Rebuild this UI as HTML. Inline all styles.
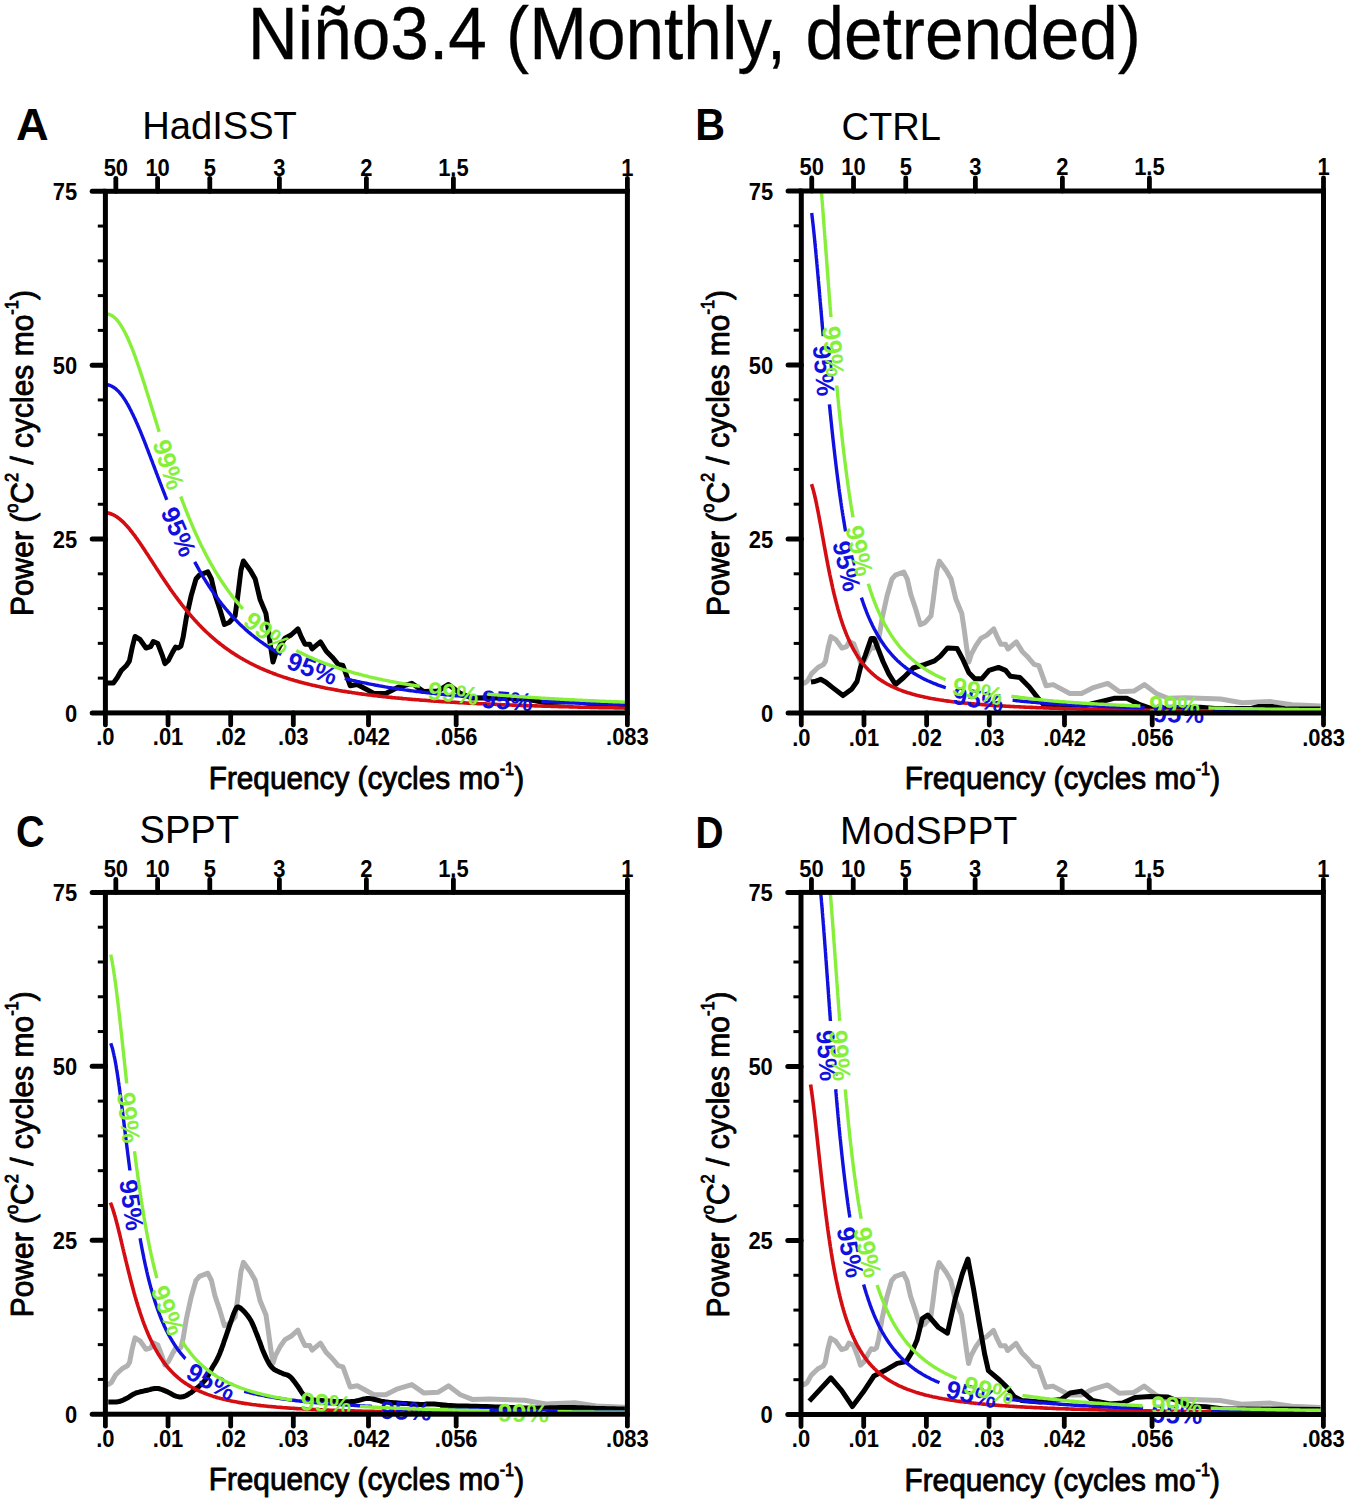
<!DOCTYPE html>
<html><head><meta charset="utf-8"><style>
html,body{margin:0;padding:0;background:#fff;overflow:hidden;}
svg{display:block;}
text{font-family:"Liberation Sans", sans-serif;}
.tl{font-size:21.5px;font-weight:bold;fill:#000;}
.cl{font-size:21.5px;font-weight:bold;}
.al{font-size:32.5px;fill:#000;}
.pl{font-size:42px;font-weight:bold;fill:#000;}
.pt{font-size:38px;fill:#000;}
.ti{font-size:72px;fill:#000;}
</style></head><body>
<svg width="1350" height="1505" viewBox="0 0 1350 1505">
<rect width="1350" height="1505" fill="#fff"/>
<text transform="translate(694.30,58.70) scale(0.9300,1)" text-anchor="middle" font-size="74.6" font-weight="normal" fill="#000" stroke="#000" stroke-width="0.3" stroke-linejoin="round">Niño3.4 (Monthly, detrended)</text>

<clipPath id="clipA"><rect x="105.4" y="191.3" width="522.00" height="521.60"/></clipPath>
<polyline points="105.6,683.0 113.4,683.0 117.2,677.8 121.3,670.5 126.2,665.8 129.4,661.0 132.3,647.0 135.0,636.5 140.0,639.5 146.0,648.0 150.7,646.5 153.3,641.5 157.8,643.6 162.2,655.1 164.9,663.6 168.4,660.4 172.9,651.6 175.6,647.1 178.2,648.0 180.9,646.2 183.1,637.3 186.5,616.9 191.2,595.6 196.0,579.0 199.5,575.0 207.8,571.9 211.4,579.0 214.9,594.4 219.7,608.6 224.4,624.5 229.1,622.5 235.1,615.8 237.4,599.2 241.0,570.0 243.4,561.0 250.5,570.7 255.2,579.0 260.0,599.2 265.9,613.4 268.2,628.8 270.6,646.6 273.0,662.0 275.5,654.0 280.0,645.5 285.0,638.3 291.0,635.0 297.9,628.8 301.4,637.1 305.0,644.2 309.7,644.2 312.1,648.9 320.4,641.8 326.3,651.3 332.2,657.2 338.2,664.3 342.9,665.5 350.2,685.7 357.3,684.5 373.9,693.4 385.7,693.4 397.6,687.5 411.8,683.3 423.7,691.6 437.9,691.0 448.5,684.5 460.4,693.4 472.2,698.1 489.3,697.7 524.6,698.9 546.0,702.7 574.9,701.5 596.3,704.6 624.9,705.9" fill="none" stroke="#000" stroke-width="5.0" stroke-linejoin="round" clip-path="url(#clipA)"/>
<polyline points="105.4,512.8 106.9,512.9 108.4,513.1 109.9,513.5 111.3,514.0 112.7,514.6 114.1,515.2 115.4,516.0 116.7,516.8 118.0,517.7 119.2,518.6 120.4,519.6 121.5,520.6 122.7,521.7 123.8,522.7 124.9,523.9 125.9,525.0 127.0,526.1 128.0,527.3 129.0,528.4 130.0,529.7 130.9,530.8 131.9,532.0 132.8,533.3 133.8,534.5 134.7,535.7 135.6,536.9 136.5,538.2 137.4,539.4 138.3,540.7 139.2,542.0 140.1,543.3 140.9,544.5 141.8,545.8 142.6,547.1 143.5,548.3 144.3,549.6 145.2,550.9 146.0,552.2 146.9,553.5 147.7,554.8 148.6,556.1 149.4,557.4 150.3,558.7 151.1,560.0 152.0,561.3 152.8,562.6 153.7,564.0 154.5,565.3 155.4,566.6 156.2,567.9 157.1,569.2 157.9,570.5 158.8,571.8 159.6,573.1 160.5,574.4 161.3,575.7 162.2,577.0 163.0,578.2 163.9,579.5 164.7,580.8 165.6,582.0 166.4,583.3 167.3,584.5 168.1,585.8 169.0,587.1 169.9,588.4 170.8,589.7 171.7,591.0 172.6,592.2 173.5,593.5 174.4,594.7 175.3,596.0 176.2,597.2 177.1,598.4 178.0,599.6 179.0,600.9 179.9,602.1 180.9,603.4 181.8,604.6 182.8,605.8 183.7,607.0 184.7,608.2 185.6,609.4 186.6,610.5 187.6,611.7 188.6,612.9 189.6,614.1 190.6,615.3 191.6,616.5 192.6,617.6 193.6,618.7 194.6,619.9 195.7,621.0 196.7,622.2 197.8,623.3 198.8,624.4 199.9,625.5 200.9,626.6 202.0,627.7 203.1,628.8 204.2,629.9 205.3,630.9 206.4,632.0 207.5,633.0 208.6,634.0 209.8,635.1 210.9,636.1 212.1,637.1 213.2,638.1 214.4,639.1 215.5,640.1 216.7,641.1 217.9,642.1 219.1,643.0 220.3,644.0 221.5,644.9 222.7,645.8 223.9,646.7 225.2,647.7 226.4,648.6 227.7,649.5 228.9,650.3 230.2,651.2 231.4,652.1 232.7,652.9 234.0,653.7 235.3,654.6 236.6,655.4 237.9,656.2 239.2,657.0 240.5,657.8 241.8,658.5 243.1,659.3 244.4,660.0 245.8,660.8 247.1,661.5 248.5,662.2 249.8,663.0 251.2,663.7 252.5,664.3 253.9,665.0 255.2,665.7 256.6,666.3 258.0,667.0 259.4,667.6 260.8,668.3 262.2,668.9 263.6,669.5 265.0,670.1 266.4,670.7 267.8,671.3 269.2,671.8 270.6,672.4 272.0,672.9 273.5,673.5 274.9,674.0 276.4,674.6 277.8,675.1 279.3,675.6 280.7,676.1 282.2,676.6 283.6,677.1 285.1,677.6 286.5,678.0 288.0,678.5 289.4,678.9 290.9,679.4 292.3,679.8 293.8,680.3 295.2,680.7 296.7,681.1 298.1,681.5 299.6,681.9 301.0,682.3 302.5,682.7 304.0,683.1 305.5,683.4 307.0,683.8 308.5,684.2 310.0,684.6 311.5,684.9 313.0,685.3 314.5,685.6 316.0,685.9 317.5,686.3 319.0,686.6 320.5,686.9 322.0,687.2 323.5,687.6 325.0,687.9 326.5,688.2 328.0,688.5 329.5,688.7 331.0,689.0 332.5,689.3 334.0,689.6 335.5,689.9 337.0,690.1 338.5,690.4 340.0,690.7 341.5,690.9 343.0,691.2 344.5,691.4 346.0,691.6 347.5,691.9 349.0,692.1 350.5,692.3 352.0,692.6 353.5,692.8 355.0,693.0 356.5,693.2 358.0,693.4 359.5,693.7 361.0,693.9 362.5,694.1 364.0,694.3 365.5,694.5 367.0,694.7 368.5,694.9 370.0,695.0 371.5,695.2 373.0,695.4 374.5,695.6 376.0,695.8 377.5,695.9 379.0,696.1 380.5,696.3 382.0,696.5 383.5,696.6 385.0,696.8 386.5,696.9 388.0,697.1 389.5,697.3 391.0,697.4 392.5,697.6 394.0,697.7 395.5,697.9 397.0,698.0 398.5,698.1 400.0,698.3 401.5,698.4 403.0,698.6 404.5,698.7 406.0,698.8 407.5,699.0 409.0,699.1 410.5,699.2 412.0,699.4 413.5,699.5 415.0,699.6 416.5,699.7 418.0,699.8 419.5,700.0 421.0,700.1 422.5,700.2 424.0,700.3 425.5,700.4 427.0,700.5 428.5,700.6 430.0,700.7 431.5,700.9 433.0,701.0 434.5,701.1 436.0,701.2 437.5,701.3 439.0,701.4 440.5,701.5 442.0,701.6 443.5,701.7 445.0,701.8 446.5,701.9 448.0,701.9 449.5,702.0 451.0,702.1 452.5,702.2 454.0,702.3 455.5,702.4 457.0,702.5 458.5,702.6 460.0,702.7 461.5,702.7 463.0,702.8 464.5,702.9 466.0,703.0 467.5,703.1 469.0,703.1 470.5,703.2 472.0,703.3 473.5,703.4 475.0,703.4 476.5,703.5 478.0,703.6 479.5,703.7 481.0,703.7 482.5,703.8 484.0,703.9 485.5,703.9 487.0,704.0 488.5,704.1 490.0,704.1 491.5,704.2 493.0,704.3 494.5,704.3 496.0,704.4 497.5,704.5 499.0,704.5 500.5,704.6 502.0,704.7 503.5,704.7 505.0,704.8 506.5,704.8 508.0,704.9 509.5,705.0 511.0,705.0 512.5,705.1 514.0,705.1 515.5,705.2 517.0,705.2 518.5,705.3 520.0,705.3 521.5,705.4 523.0,705.5 524.5,705.5 526.0,705.6 527.5,705.6 529.0,705.7 530.5,705.7 532.0,705.8 533.5,705.8 535.0,705.9 536.5,705.9 538.0,706.0 539.5,706.0 541.0,706.0 542.5,706.1 544.0,706.1 545.5,706.2 547.0,706.2 548.5,706.3 550.0,706.3 551.5,706.4 553.0,706.4 554.5,706.4 556.0,706.5 557.5,706.5 559.0,706.6 560.5,706.6 562.0,706.7 563.5,706.7 565.0,706.7 566.5,706.8 568.0,706.8 569.5,706.9 571.0,706.9 572.5,706.9 574.0,707.0 575.5,707.0 577.0,707.0 578.5,707.1 580.0,707.1 581.5,707.2 583.0,707.2 584.5,707.2 586.0,707.3 587.5,707.3 589.0,707.3 590.5,707.4 592.0,707.4 593.5,707.4 595.0,707.5 596.5,707.5 598.0,707.5 599.5,707.6 601.0,707.6 602.5,707.6 604.0,707.7 605.5,707.7 607.0,707.7 608.5,707.8 610.0,707.8 611.5,707.8 613.0,707.8 614.5,707.9 616.0,707.9 617.5,707.9 619.0,708.0 620.5,708.0 622.0,708.0 623.5,708.0 625.0,708.1 626.5,708.1 627.4,708.1" fill="none" stroke="#d40d12" stroke-width="3.6" stroke-linejoin="round" clip-path="url(#clipA)"/>
<polyline points="105.4,384.7 106.9,384.8 108.4,385.0 109.8,385.4 111.3,386.0 112.6,386.7 113.9,387.5 115.2,388.4 116.4,389.4 117.5,390.4 118.6,391.5 119.6,392.7 120.6,393.9 121.6,395.1 122.5,396.3 123.4,397.6 124.2,398.8 125.1,400.1 125.9,401.4 126.7,402.8 127.5,404.1 128.2,405.5 129.0,406.8 129.7,408.2 130.4,409.6 131.1,410.9 131.8,412.4 132.5,413.8 133.2,415.1 133.8,416.5 134.5,417.9 135.1,419.3 135.8,420.8 136.4,422.2 137.1,423.7 137.7,425.1 138.3,426.5 138.9,427.9 139.5,429.3 140.1,430.7 140.7,432.2 141.3,433.7 141.9,435.1 142.5,436.6 143.1,438.1 143.7,439.6 144.3,441.1 144.9,442.6 145.4,444.0 146.0,445.4 146.5,446.9 147.1,448.3 147.6,449.7 148.2,451.1 148.7,452.6 149.3,454.0 149.8,455.4 150.4,456.9 150.9,458.3 151.5,459.8 152.0,461.2 152.6,462.7 153.1,464.1 153.7,465.6 154.2,467.0 154.8,468.5 155.3,469.9 155.9,471.4 156.4,472.9 157.0,474.3 157.5,475.8 158.1,477.2 158.6,478.7 159.2,480.1 159.7,481.6 160.3,483.0 160.8,484.4 161.4,485.9 161.9,487.3 162.5,488.7 163.0,490.2 163.6,491.6 164.1,493.0 164.7,494.4 165.2,495.8 165.8,497.2 166.3,498.6 166.8,499.8" fill="none" stroke="#1010e0" stroke-width="3.4" stroke-linejoin="round" clip-path="url(#clipA)"/>
<polyline points="194.7,561.9 195.5,563.3 196.2,564.7 197.0,566.0 197.7,567.4 198.5,568.7 199.2,570.1 200.0,571.4 200.7,572.7 201.5,574.1 202.3,575.4 203.1,576.8 203.9,578.1 204.7,579.4 205.5,580.7 206.3,582.0 207.2,583.3 208.0,584.6 208.9,586.0 209.7,587.3 210.6,588.5 211.4,589.8 212.3,591.0 213.2,592.4 214.1,593.6 215.0,594.9 215.9,596.2 216.8,597.4 217.7,598.6 218.6,599.8 219.5,601.1 220.5,602.3 221.4,603.6 222.4,604.8 223.3,605.9 224.3,607.1 225.3,608.3 226.3,609.5 227.3,610.7 228.3,611.9 229.3,613.0 230.3,614.1 231.3,615.3 232.4,616.5 233.4,617.6 234.5,618.7 235.5,619.8 236.6,620.9 237.7,622.0 238.8,623.1 239.9,624.2 241.0,625.2 242.1,626.3 243.2,627.3 244.3,628.3 245.5,629.4 246.6,630.4 247.8,631.4 248.9,632.4 250.1,633.4 251.3,634.4 252.5,635.3 253.7,636.3 254.9,637.3 256.1,638.2 257.3,639.1 258.5,640.0 259.8,641.0 261.0,641.9 262.3,642.7 263.5,643.6 264.8,644.5 266.0,645.3 267.3,646.2 268.6,647.0 269.9,647.8 271.2,648.7 272.5,649.5 273.8,650.2 275.1,651.0 276.4,651.8 277.7,652.5 279.0,653.3 280.4,654.0 281.3,654.5" fill="none" stroke="#1010e0" stroke-width="3.4" stroke-linejoin="round" clip-path="url(#clipA)"/>
<polyline points="344.8,678.4 346.3,678.8 347.8,679.2 349.3,679.6 350.8,679.9 352.3,680.3 353.8,680.6 355.3,681.0 356.8,681.3 358.3,681.6 359.8,682.0 361.3,682.3 362.8,682.6 364.3,682.9 365.8,683.2 367.3,683.5 368.8,683.8 370.3,684.1 371.8,684.4 373.3,684.7 374.8,685.0 376.3,685.3 377.8,685.5 379.3,685.8 380.8,686.1 382.3,686.3 383.8,686.6 385.3,686.9 386.8,687.1 388.3,687.4 389.8,687.6 391.3,687.8 392.8,688.1 394.3,688.3 395.8,688.5 397.3,688.8 398.8,689.0 400.3,689.2 401.8,689.4 403.3,689.6 404.8,689.9 406.3,690.1 407.8,690.3 409.3,690.5 410.8,690.7 412.3,690.9 413.8,691.1 415.3,691.3 416.8,691.5 418.3,691.6 419.8,691.8 421.3,692.0 422.8,692.2 424.3,692.4 425.8,692.6 427.3,692.7 428.8,692.9 430.3,693.1 431.8,693.2 433.3,693.4 434.8,693.6 436.3,693.7 437.8,693.9 439.3,694.0 440.8,694.2 442.3,694.4 443.8,694.5 445.3,694.7 446.8,694.8 448.3,694.9 449.8,695.1 451.3,695.2 452.8,695.4 454.3,695.5 455.8,695.7 457.3,695.8 458.8,695.9 460.3,696.1 461.8,696.2 463.3,696.3 464.8,696.4 466.3,696.6 467.8,696.7 469.3,696.8 470.8,696.9 472.3,697.1 473.4,697.2" fill="none" stroke="#1010e0" stroke-width="3.4" stroke-linejoin="round" clip-path="url(#clipA)"/>
<polyline points="541.3,701.4 542.8,701.5 544.3,701.6 545.8,701.6 547.3,701.7 548.8,701.8 550.3,701.9 551.8,701.9 553.3,702.0 554.8,702.1 556.3,702.1 557.8,702.2 559.3,702.3 560.8,702.3 562.3,702.4 563.8,702.5 565.3,702.5 566.8,702.6 568.3,702.7 569.8,702.7 571.3,702.8 572.8,702.8 574.3,702.9 575.8,703.0 577.3,703.0 578.8,703.1 580.3,703.1 581.8,703.2 583.3,703.3 584.8,703.3 586.3,703.4 587.8,703.4 589.3,703.5 590.8,703.5 592.3,703.6 593.8,703.6 595.3,703.7 596.8,703.8 598.3,703.8 599.8,703.9 601.3,703.9 602.8,704.0 604.3,704.0 605.8,704.1 607.3,704.1 608.8,704.2 610.3,704.2 611.8,704.3 613.3,704.3 614.8,704.4 616.3,704.4 617.8,704.4 619.3,704.5 620.8,704.5 622.3,704.6 623.8,704.6 625.3,704.7 626.8,704.7 627.4,704.7" fill="none" stroke="#1010e0" stroke-width="3.4" stroke-linejoin="round" clip-path="url(#clipA)"/>
<text transform="translate(179.0,531.6) rotate(66.0) scale(1.0,1)" x="0" y="9.18" text-anchor="middle" font-size="25.5" font-weight="bold" fill="#1010e0">95%</text>
<text transform="translate(312.4,668.2) rotate(20.2) scale(1.0,1)" x="0" y="9.18" text-anchor="middle" font-size="25.5" font-weight="bold" fill="#1010e0">95%</text>
<text transform="translate(507.3,700.3) rotate(3.6) scale(1.0,1)" x="0" y="9.18" text-anchor="middle" font-size="25.5" font-weight="bold" fill="#1010e0">95%</text>
<polyline points="105.4,313.8 106.9,313.9 108.4,314.1 109.8,314.6 111.2,315.2 112.5,316.0 113.8,317.0 114.9,317.9 116.0,319.0 117.1,320.2 118.1,321.4 119.0,322.6 119.9,323.9 120.8,325.2 121.6,326.5 122.4,327.9 123.2,329.2 123.9,330.5 124.7,331.9 125.4,333.3 126.1,334.7 126.8,336.2 127.4,337.6 128.1,339.0 128.7,340.5 129.3,341.8 129.9,343.2 130.5,344.7 131.1,346.1 131.7,347.6 132.3,349.2 132.9,350.6 133.4,352.0 134.0,353.5 134.5,354.9 135.1,356.4 135.6,357.9 136.2,359.5 136.7,361.0 137.2,362.4 137.7,363.9 138.2,365.3 138.7,366.8 139.2,368.2 139.7,369.7 140.2,371.2 140.7,372.7 141.2,374.2 141.7,375.7 142.2,377.3 142.7,378.8 143.2,380.4 143.7,381.9 144.2,383.5 144.7,385.1 145.2,386.6 145.7,388.2 146.2,389.8 146.7,391.2 147.1,392.7 147.6,394.1 148.0,395.6 148.5,397.0 148.9,398.5 149.4,399.9 149.8,401.4 150.3,402.8 150.7,404.3 151.2,405.8 151.6,407.2 152.1,408.7 152.5,410.2 153.0,411.6 153.4,413.1 153.9,414.6 154.3,416.0 154.8,417.5 155.2,419.0 155.7,420.4 156.1,421.9 156.6,423.4 157.0,424.8 157.5,426.3 157.9,427.8 158.4,429.2 158.8,430.7 159.2,431.8" fill="none" stroke="#86ef3a" stroke-width="3.4" stroke-linejoin="round" clip-path="url(#clipA)"/>
<polyline points="180.7,496.5 181.3,498.0 181.8,499.5 182.4,500.9 182.9,502.4 183.5,503.8 184.0,505.2 184.6,506.7 185.1,508.1 185.7,509.5 186.3,511.0 186.9,512.5 187.5,514.0 188.1,515.5 188.7,517.0 189.3,518.4 189.9,519.9 190.5,521.3 191.1,522.7 191.7,524.2 192.3,525.6 192.9,527.0 193.5,528.3 194.1,529.8 194.8,531.3 195.4,532.7 196.1,534.2 196.7,535.6 197.4,537.0 198.0,538.4 198.7,539.8 199.3,541.2 200.0,542.6 200.6,543.9 201.3,545.4 202.0,546.8 202.7,548.2 203.4,549.6 204.1,551.0 204.8,552.4 205.5,553.7 206.2,555.1 206.9,556.4 207.7,557.8 208.4,559.2 209.2,560.6 209.9,561.9 210.7,563.3 211.4,564.6 212.2,565.9 212.9,567.2 213.7,568.6 214.5,570.0 215.3,571.3 216.1,572.6 216.9,573.9 217.7,575.2 218.5,576.5 219.4,577.8 220.2,579.2 221.1,580.5 221.9,581.8 222.8,583.0 223.6,584.3 224.5,585.5 225.4,586.8 226.3,588.1 227.2,589.4 228.1,590.6 229.0,591.9 229.9,593.1 230.8,594.3 231.8,595.6 232.7,596.8 233.7,598.0 234.6,599.2 235.6,600.4 236.6,601.6 237.6,602.8 238.6,604.0 239.6,605.2 240.6,606.3 241.6,607.5 242.6,608.6 242.9,608.9" fill="none" stroke="#86ef3a" stroke-width="3.4" stroke-linejoin="round" clip-path="url(#clipA)"/>
<polyline points="296.3,650.5 297.7,651.2 299.0,651.9 300.4,652.6 301.7,653.3 303.1,653.9 304.4,654.6 305.8,655.3 307.2,655.9 308.6,656.6 310.0,657.2 311.4,657.8 312.8,658.4 314.2,659.1 315.6,659.7 317.0,660.2 318.4,660.8 319.8,661.4 321.2,661.9 322.6,662.5 324.0,663.0 325.5,663.6 326.9,664.1 328.4,664.7 329.8,665.2 331.3,665.7 332.7,666.2 334.2,666.7 335.6,667.2 337.1,667.7 338.5,668.2 340.0,668.6 341.4,669.1 342.9,669.6 344.3,670.0 345.8,670.4 347.2,670.9 348.7,671.3 350.1,671.7 351.6,672.1 353.0,672.6 354.5,673.0 355.9,673.4 357.4,673.7 358.8,674.1 360.3,674.5 361.8,674.9 363.3,675.3 364.8,675.7 366.3,676.0 367.8,676.4 369.3,676.8 370.8,677.1 372.3,677.5 373.8,677.8 375.3,678.1 376.8,678.5 378.3,678.8 379.8,679.1 381.3,679.4 382.8,679.8 384.3,680.1 385.8,680.4 387.3,680.7 388.8,681.0 390.3,681.3 391.8,681.6 393.3,681.8 394.8,682.1 396.3,682.4 397.8,682.7 399.3,683.0 400.8,683.2 402.3,683.5 403.8,683.7 405.3,684.0 406.8,684.2 408.3,684.5 409.8,684.7 411.3,685.0 412.8,685.2 414.3,685.5 415.8,685.7 417.3,685.9 418.8,686.2 419.8,686.3" fill="none" stroke="#86ef3a" stroke-width="3.4" stroke-linejoin="round" clip-path="url(#clipA)"/>
<polyline points="487.4,694.1 488.9,694.2 490.4,694.4 491.9,694.5 493.4,694.6 494.9,694.7 496.4,694.9 497.9,695.0 499.4,695.1 500.9,695.2 502.4,695.4 503.9,695.5 505.4,695.6 506.9,695.7 508.4,695.8 509.9,695.9 511.4,696.0 512.9,696.2 514.4,696.3 515.9,696.4 517.4,696.5 518.9,696.6 520.4,696.7 521.9,696.8 523.4,696.9 524.9,697.0 526.4,697.1 527.9,697.2 529.4,697.3 530.9,697.4 532.4,697.5 533.9,697.6 535.4,697.7 536.9,697.8 538.4,697.9 539.9,698.0 541.4,698.1 542.9,698.2 544.4,698.3 545.9,698.4 547.4,698.4 548.9,698.5 550.4,698.6 551.9,698.7 553.4,698.8 554.9,698.9 556.4,699.0 557.9,699.0 559.4,699.1 560.9,699.2 562.4,699.3 563.9,699.4 565.4,699.5 566.9,699.5 568.4,699.6 569.9,699.7 571.4,699.8 572.9,699.8 574.4,699.9 575.9,700.0 577.4,700.1 578.9,700.1 580.4,700.2 581.9,700.3 583.4,700.4 584.9,700.4 586.4,700.5 587.9,700.6 589.4,700.6 590.9,700.7 592.4,700.8 593.9,700.8 595.4,700.9 596.9,701.0 598.4,701.0 599.9,701.1 601.4,701.2 602.9,701.2 604.4,701.3 605.9,701.4 607.4,701.4 608.9,701.5 610.4,701.5 611.9,701.6 613.4,701.7 614.9,701.7 616.4,701.8 617.9,701.8 619.4,701.9 620.9,702.0 622.4,702.0 623.9,702.1 625.4,702.1 626.9,702.2 627.4,702.2" fill="none" stroke="#86ef3a" stroke-width="3.4" stroke-linejoin="round" clip-path="url(#clipA)"/>
<text transform="translate(168.9,464.5) rotate(71.7) scale(1.0,1)" x="0" y="9.18" text-anchor="middle" font-size="25.5" font-weight="bold" fill="#86ef3a">99%</text>
<text transform="translate(267.5,632.4) rotate(37.8) scale(1.0,1)" x="0" y="9.18" text-anchor="middle" font-size="25.5" font-weight="bold" fill="#86ef3a">99%</text>
<text transform="translate(453.3,693.0) rotate(6.5) scale(1.0,1)" x="0" y="9.18" text-anchor="middle" font-size="25.5" font-weight="bold" fill="#86ef3a">99%</text>
<rect x="105.4" y="191.3" width="522.00" height="521.60" fill="none" stroke="#000" stroke-width="5"/>
<line x1="105.4" y1="712.90" x2="92.20" y2="712.90" stroke="#000" stroke-width="5" stroke-linecap="round"/>
<text transform="translate(77.20,721.70) scale(0.9550,1)" text-anchor="end" font-size="23.0" font-weight="bold" fill="#000">0</text>
<line x1="105.4" y1="678.13" x2="97.80" y2="678.13" stroke="#000" stroke-width="3"/>
<line x1="105.4" y1="643.35" x2="97.80" y2="643.35" stroke="#000" stroke-width="3"/>
<line x1="105.4" y1="608.58" x2="97.80" y2="608.58" stroke="#000" stroke-width="3"/>
<line x1="105.4" y1="573.81" x2="97.80" y2="573.81" stroke="#000" stroke-width="3"/>
<line x1="105.4" y1="539.03" x2="92.20" y2="539.03" stroke="#000" stroke-width="5" stroke-linecap="round"/>
<text transform="translate(77.20,547.83) scale(0.9550,1)" text-anchor="end" font-size="23.0" font-weight="bold" fill="#000">25</text>
<line x1="105.4" y1="504.26" x2="97.80" y2="504.26" stroke="#000" stroke-width="3"/>
<line x1="105.4" y1="469.49" x2="97.80" y2="469.49" stroke="#000" stroke-width="3"/>
<line x1="105.4" y1="434.71" x2="97.80" y2="434.71" stroke="#000" stroke-width="3"/>
<line x1="105.4" y1="399.94" x2="97.80" y2="399.94" stroke="#000" stroke-width="3"/>
<line x1="105.4" y1="365.17" x2="92.20" y2="365.17" stroke="#000" stroke-width="5" stroke-linecap="round"/>
<text transform="translate(77.20,373.97) scale(0.9550,1)" text-anchor="end" font-size="23.0" font-weight="bold" fill="#000">50</text>
<line x1="105.4" y1="330.39" x2="97.80" y2="330.39" stroke="#000" stroke-width="3"/>
<line x1="105.4" y1="295.62" x2="97.80" y2="295.62" stroke="#000" stroke-width="3"/>
<line x1="105.4" y1="260.85" x2="97.80" y2="260.85" stroke="#000" stroke-width="3"/>
<line x1="105.4" y1="226.07" x2="97.80" y2="226.07" stroke="#000" stroke-width="3"/>
<line x1="105.4" y1="191.30" x2="92.20" y2="191.30" stroke="#000" stroke-width="5" stroke-linecap="round"/>
<text transform="translate(77.20,200.10) scale(0.9550,1)" text-anchor="end" font-size="23.0" font-weight="bold" fill="#000">75</text>
<line x1="105.40" y1="712.9" x2="105.40" y2="724.90" stroke="#000" stroke-width="4.8" stroke-linecap="round"/>
<text transform="translate(105.40,745.40) scale(0.9550,1)" text-anchor="middle" font-size="23.0" font-weight="bold" fill="#000">.0</text>
<line x1="168.04" y1="712.9" x2="168.04" y2="724.90" stroke="#000" stroke-width="4.8" stroke-linecap="round"/>
<text transform="translate(168.04,745.40) scale(0.9550,1)" text-anchor="middle" font-size="23.0" font-weight="bold" fill="#000">.01</text>
<line x1="230.68" y1="712.9" x2="230.68" y2="724.90" stroke="#000" stroke-width="4.8" stroke-linecap="round"/>
<text transform="translate(230.68,745.40) scale(0.9550,1)" text-anchor="middle" font-size="23.0" font-weight="bold" fill="#000">.02</text>
<line x1="293.32" y1="712.9" x2="293.32" y2="724.90" stroke="#000" stroke-width="4.8" stroke-linecap="round"/>
<text transform="translate(293.32,745.40) scale(0.9550,1)" text-anchor="middle" font-size="23.0" font-weight="bold" fill="#000">.03</text>
<line x1="368.49" y1="712.9" x2="368.49" y2="724.90" stroke="#000" stroke-width="4.8" stroke-linecap="round"/>
<text transform="translate(368.49,745.40) scale(0.9550,1)" text-anchor="middle" font-size="23.0" font-weight="bold" fill="#000">.042</text>
<line x1="456.18" y1="712.9" x2="456.18" y2="724.90" stroke="#000" stroke-width="4.8" stroke-linecap="round"/>
<text transform="translate(456.18,745.40) scale(0.9550,1)" text-anchor="middle" font-size="23.0" font-weight="bold" fill="#000">.056</text>
<line x1="627.40" y1="712.9" x2="627.40" y2="724.90" stroke="#000" stroke-width="4.8" stroke-linecap="round"/>
<text transform="translate(627.40,745.40) scale(0.9550,1)" text-anchor="middle" font-size="23.0" font-weight="bold" fill="#000">.083</text>
<line x1="115.84" y1="191.3" x2="115.84" y2="178.30" stroke="#000" stroke-width="4.8" stroke-linecap="round"/>
<text transform="translate(115.84,175.60) scale(0.9550,1)" text-anchor="middle" font-size="23.0" font-weight="bold" fill="#000">50</text>
<line x1="157.60" y1="191.3" x2="157.60" y2="178.30" stroke="#000" stroke-width="4.8" stroke-linecap="round"/>
<text transform="translate(157.60,175.60) scale(0.9550,1)" text-anchor="middle" font-size="23.0" font-weight="bold" fill="#000">10</text>
<line x1="209.80" y1="191.3" x2="209.80" y2="178.30" stroke="#000" stroke-width="4.8" stroke-linecap="round"/>
<text transform="translate(209.80,175.60) scale(0.9550,1)" text-anchor="middle" font-size="23.0" font-weight="bold" fill="#000">5</text>
<line x1="279.40" y1="191.3" x2="279.40" y2="178.30" stroke="#000" stroke-width="4.8" stroke-linecap="round"/>
<text transform="translate(279.40,175.60) scale(0.9550,1)" text-anchor="middle" font-size="23.0" font-weight="bold" fill="#000">3</text>
<line x1="366.40" y1="191.3" x2="366.40" y2="178.30" stroke="#000" stroke-width="4.8" stroke-linecap="round"/>
<text transform="translate(366.40,175.60) scale(0.9550,1)" text-anchor="middle" font-size="23.0" font-weight="bold" fill="#000">2</text>
<line x1="453.40" y1="191.3" x2="453.40" y2="178.30" stroke="#000" stroke-width="4.8" stroke-linecap="round"/>
<text transform="translate(453.40,175.60) scale(0.9550,1)" text-anchor="middle" font-size="23.0" font-weight="bold" fill="#000">1.5</text>
<line x1="627.40" y1="191.3" x2="627.40" y2="178.30" stroke="#000" stroke-width="4.8" stroke-linecap="round"/>
<text transform="translate(627.40,175.60) scale(0.9550,1)" text-anchor="middle" font-size="23.0" font-weight="bold" fill="#000">1</text>
<text transform="translate(366.40,789.10) scale(0.9300,1)" text-anchor="middle" font-size="32.0" fill="#000" stroke="#000" stroke-width="0.9" stroke-linejoin="round">Frequency (cycles mo<tspan dy="-14.5" font-size="17.5">-1</tspan><tspan dy="14.5">)</tspan></text>
<text transform="translate(32.90,453.10) rotate(-90) scale(0.9370,1)" text-anchor="middle" font-size="32.0" fill="#000" stroke="#000" stroke-width="0.9" stroke-linejoin="round">Power (<tspan dy="-14.5" font-size="17.5">o</tspan><tspan dy="14.5">C</tspan><tspan dy="-14.5" font-size="17.5">2</tspan><tspan dy="14.5"> / cycles mo</tspan><tspan dy="-14.5" font-size="17.5">-1</tspan><tspan dy="14.5">)</tspan></text>
<text transform="translate(16.00,139.70) scale(1.0400,1)" text-anchor="start" font-size="43.5" font-weight="bold" fill="#000">A</text>
<text transform="translate(142.30,139.30) scale(0.9650,1)" text-anchor="start" font-size="39.5" font-weight="normal" fill="#000">HadISST</text>
<clipPath id="clipB"><rect x="801.3" y="191.0" width="522.20" height="522.00"/></clipPath>
<polyline points="801.5,683.6 804.4,683.1 807.4,681.1 811.6,673.6 818.3,667.3 823.4,664.6 825.5,661.1 828.2,647.1 830.9,636.6 835.9,639.6 841.9,648.1 846.6,646.6 849.2,641.6 853.7,643.7 858.1,655.2 860.8,663.7 864.3,660.5 868.8,651.7 871.5,647.2 874.1,648.1 876.8,646.3 879.0,637.4 882.4,617.0 887.1,595.7 891.9,579.1 895.4,575.1 903.7,572.0 907.3,579.1 910.8,594.5 915.6,608.7 920.3,624.6 925.0,622.6 931.0,615.9 933.3,599.3 936.9,570.1 939.3,561.1 946.4,570.8 951.1,579.1 955.9,599.3 961.8,613.5 964.1,628.9 966.5,646.7 968.9,662.1 971.4,654.1 975.9,645.6 980.9,638.4 986.9,635.1 993.8,628.9 997.3,637.2 1000.9,644.3 1005.6,644.3 1008.0,649.0 1016.3,641.9 1022.2,651.4 1028.1,657.3 1034.1,664.4 1038.8,665.6 1046.1,685.8 1053.2,684.6 1069.8,693.5 1081.6,693.5 1093.5,687.6 1107.7,683.4 1119.6,691.7 1133.8,691.1 1144.4,684.6 1156.3,693.5 1168.1,698.2 1185.2,697.8 1220.5,699.0 1241.9,702.8 1270.8,701.6 1292.2,704.7 1320.8,706.0" fill="none" stroke="#b1b1b1" stroke-width="5.0" stroke-linejoin="round" clip-path="url(#clipB)"/>
<polyline points="811.0,682.0 814.8,681.5 820.7,679.3 825.9,682.2 833.3,688.1 843.0,695.6 851.9,688.9 857.0,681.5 860.7,666.7 865.2,655.6 871.1,638.5 874.1,638.5 877.8,648.1 883.0,661.5 888.9,674.1 895.5,684.5 903.7,677.5 913.2,668.0 925.0,664.4 934.5,660.9 940.4,656.1 947.6,647.9 957.0,648.4 963.0,659.7 968.9,672.7 974.8,678.7 981.9,678.7 989.0,670.4 998.5,667.4 1005.6,670.4 1010.4,676.3 1019.9,677.5 1029.3,687.0 1037.6,697.6 1044.4,705.6 1060.0,707.0 1085.0,705.5 1100.6,701.8 1114.8,698.2 1126.7,698.2 1138.5,704.1 1150.0,708.0 1175.0,708.3 1200.0,707.2 1215.0,708.5 1250.0,708.6 1258.0,706.6 1273.0,706.6 1285.0,708.8 1320.5,709.0" fill="none" stroke="#000" stroke-width="5.0" stroke-linejoin="round" clip-path="url(#clipB)"/>
<polyline points="811.5,484.1 812.0,485.6 812.4,487.1 812.9,488.6 813.3,490.1 813.7,491.6 814.1,493.2 814.5,494.8 814.8,496.3 815.2,497.8 815.5,499.3 815.9,500.9 816.2,502.5 816.6,504.2 816.9,505.9 817.2,507.4 817.5,508.9 817.8,510.4 818.1,511.9 818.4,513.5 818.7,515.0 819.0,516.6 819.3,518.2 819.6,519.8 819.9,521.5 820.2,523.1 820.5,524.7 820.8,526.4 821.1,528.0 821.4,529.7 821.7,531.3 822.0,533.0 822.3,534.7 822.6,536.3 822.9,538.0 823.2,539.7 823.5,541.3 823.8,543.0 824.1,544.7 824.4,546.3 824.7,548.0 825.0,549.6 825.3,551.2 825.6,552.9 825.9,554.5 826.2,556.1 826.5,557.7 826.8,559.3 827.1,560.9 827.4,562.4 827.7,564.0 828.0,565.5 828.3,567.1 828.6,568.6 828.9,570.1 829.2,571.6 829.5,573.1 829.8,574.6 830.2,576.3 830.5,578.0 830.9,579.6 831.2,581.3 831.6,582.9 831.9,584.5 832.3,586.1 832.6,587.6 833.0,589.2 833.3,590.7 833.7,592.2 834.0,593.7 834.4,595.1 834.8,596.8 835.2,598.4 835.6,600.0 836.0,601.6 836.4,603.1 836.8,604.6 837.2,606.1 837.6,607.6 838.0,609.2 838.5,610.8 838.9,612.4 839.4,613.9 839.8,615.4 840.3,616.9 840.7,618.3 841.2,619.9 841.7,621.4 842.2,622.9 842.7,624.4 843.2,625.8 843.8,627.4 844.3,628.9 844.9,630.3 845.4,631.8 846.0,633.2 846.6,634.7 847.2,636.1 847.8,637.5 848.4,638.9 849.0,640.4 849.7,641.8 850.3,643.2 851.0,644.6 851.7,646.0 852.4,647.4 853.2,648.8 853.9,650.1 854.7,651.5 855.5,652.8 856.3,654.2 857.1,655.4 857.9,656.8 858.8,658.0 859.7,659.3 860.6,660.6 861.5,661.8 862.4,663.0 863.4,664.2 864.4,665.4 865.4,666.6 866.4,667.7 867.4,668.8 868.5,669.9 869.6,671.0 870.7,672.1 871.8,673.1 873.0,674.2 874.1,675.1 875.3,676.1 876.5,677.1 877.7,678.0 879.0,678.9 880.2,679.7 881.5,680.6 882.8,681.4 884.1,682.2 885.4,683.0 886.7,683.8 888.1,684.5 889.4,685.2 890.8,685.9 892.1,686.6 893.5,687.2 894.9,687.8 896.3,688.4 897.7,689.0 899.1,689.6 900.5,690.1 902.0,690.7 903.4,691.2 904.9,691.7 906.3,692.2 907.8,692.7 909.2,693.1 910.7,693.5 912.1,694.0 913.6,694.4 915.0,694.8 916.5,695.2 918.0,695.5 919.5,695.9 921.0,696.3 922.5,696.6 924.0,696.9 925.5,697.3 927.0,697.6 928.5,697.9 930.0,698.2 931.5,698.5 933.0,698.7 934.5,699.0 936.0,699.3 937.5,699.5 939.0,699.8 940.5,700.0 942.0,700.2 943.5,700.4 945.0,700.7 946.5,700.9 948.0,701.1 949.5,701.3 951.0,701.5 952.5,701.7 954.0,701.9 955.5,702.0 957.0,702.2 958.5,702.4 960.0,702.6 961.5,702.7 963.0,702.9 964.5,703.0 966.0,703.2 967.5,703.3 969.0,703.5 970.5,703.6 972.0,703.8 973.5,703.9 975.0,704.0 976.5,704.2 978.0,704.3 979.5,704.4 981.0,704.5 982.5,704.6 984.0,704.8 985.5,704.9 987.0,705.0 988.5,705.1 990.0,705.2 991.5,705.3 993.0,705.4 994.5,705.5 996.0,705.6 997.5,705.7 999.0,705.8 1000.5,705.9 1002.0,706.0 1003.5,706.0 1005.0,706.1 1006.5,706.2 1008.0,706.3 1009.5,706.4 1011.0,706.5 1012.5,706.5 1014.0,706.6 1015.5,706.7 1017.0,706.8 1018.5,706.8 1020.0,706.9 1021.5,707.0 1023.0,707.0 1024.5,707.1 1026.0,707.2 1027.5,707.2 1029.0,707.3 1030.5,707.4 1032.0,707.4 1033.5,707.5 1035.0,707.5 1036.5,707.6 1038.0,707.7 1039.5,707.7 1041.0,707.8 1042.5,707.8 1044.0,707.9 1045.5,707.9 1047.0,708.0 1048.5,708.0 1050.0,708.1 1051.5,708.1 1053.0,708.2 1054.5,708.2 1056.0,708.3 1057.5,708.3 1059.0,708.4 1060.5,708.4 1062.0,708.5 1063.5,708.5 1065.0,708.6 1066.5,708.6 1068.0,708.6 1069.5,708.7 1071.0,708.7 1072.5,708.8 1074.0,708.8 1075.5,708.8 1077.0,708.9 1078.5,708.9 1080.0,708.9 1081.5,709.0 1083.0,709.0 1084.5,709.1 1086.0,709.1 1087.5,709.1 1089.0,709.2 1090.5,709.2 1092.0,709.2 1093.5,709.3 1095.0,709.3 1096.5,709.3 1098.0,709.4 1099.5,709.4 1101.0,709.4 1102.5,709.4 1104.0,709.5 1105.5,709.5 1107.0,709.5 1108.5,709.6 1110.0,709.6 1111.5,709.6 1113.0,709.6 1114.5,709.7 1116.0,709.7 1117.5,709.7 1119.0,709.8 1120.5,709.8 1122.0,709.8 1123.5,709.8 1125.0,709.9 1126.5,709.9 1128.0,709.9 1129.5,709.9 1131.0,709.9 1132.5,710.0 1134.0,710.0 1135.5,710.0 1137.0,710.0 1138.5,710.1 1140.0,710.1 1141.5,710.1 1143.0,710.1 1144.5,710.1 1146.0,710.2 1147.5,710.2 1149.0,710.2 1150.5,710.2 1152.0,710.2 1153.5,710.3 1155.0,710.3 1156.5,710.3 1158.0,710.3 1159.5,710.3 1161.0,710.4 1162.5,710.4 1164.0,710.4 1165.5,710.4 1167.0,710.4 1168.5,710.5 1170.0,710.5 1171.5,710.5 1173.0,710.5 1174.5,710.5 1176.0,710.5 1177.5,710.6 1179.0,710.6 1180.5,710.6 1182.0,710.6 1183.5,710.6 1185.0,710.6 1186.5,710.7 1188.0,710.7 1189.5,710.7 1191.0,710.7 1192.5,710.7 1194.0,710.7 1195.5,710.7 1197.0,710.8 1198.5,710.8 1200.0,710.8 1201.5,710.8 1203.0,710.8 1204.5,710.8 1206.0,710.8 1207.5,710.9 1209.0,710.9 1210.5,710.9 1212.0,710.9 1213.5,710.9 1215.0,710.9 1216.5,710.9 1218.0,710.9 1219.5,711.0 1221.0,711.0 1222.5,711.0 1224.0,711.0 1225.5,711.0 1227.0,711.0 1228.5,711.0 1230.0,711.0 1231.5,711.1 1233.0,711.1 1234.5,711.1 1236.0,711.1 1237.5,711.1 1239.0,711.1 1240.5,711.1 1242.0,711.1 1243.5,711.1 1245.0,711.2 1246.5,711.2 1248.0,711.2 1249.5,711.2 1251.0,711.2 1252.5,711.2 1254.0,711.2 1255.5,711.2 1257.0,711.2 1258.5,711.2 1260.0,711.3 1261.5,711.3 1263.0,711.3 1264.5,711.3 1266.0,711.3 1267.5,711.3 1269.0,711.3 1270.5,711.3 1272.0,711.3 1273.5,711.3 1275.0,711.3 1276.5,711.4 1278.0,711.4 1279.5,711.4 1281.0,711.4 1282.5,711.4 1284.0,711.4 1285.5,711.4 1287.0,711.4 1288.5,711.4 1290.0,711.4 1291.5,711.4 1293.0,711.4 1294.5,711.5 1296.0,711.5 1297.5,711.5 1299.0,711.5 1300.5,711.5 1302.0,711.5 1303.5,711.5 1305.0,711.5 1306.5,711.5 1308.0,711.5 1309.5,711.5 1311.0,711.5 1312.5,711.5 1314.0,711.6 1315.5,711.6 1317.0,711.6 1318.5,711.6 1320.0,711.6 1321.5,711.6 1323.0,711.6 1323.5,711.6" fill="none" stroke="#d40d12" stroke-width="3.6" stroke-linejoin="round" clip-path="url(#clipB)"/>
<polyline points="811.7,213.0 811.9,214.6 812.1,216.3 812.3,218.0 812.5,219.7 812.7,221.4 812.9,223.2 813.1,225.0 813.3,226.8 813.5,228.7 813.7,230.6 813.9,232.5 814.1,234.4 814.3,236.3 814.5,238.3 814.7,240.3 814.8,241.8 815.0,243.3 815.1,244.8 815.3,246.4 815.4,247.9 815.6,249.5 815.7,251.0 815.9,252.6 816.0,254.2 816.2,255.8 816.3,257.4 816.5,259.0 816.6,260.6 816.8,262.3 816.9,263.9 817.1,265.6 817.2,267.2 817.4,268.9 817.5,270.5 817.7,272.2 817.8,273.9 818.0,275.6 818.1,277.3 818.3,279.0 818.4,280.7 818.6,282.4 818.7,284.1 818.9,285.8 819.0,287.5 819.2,289.2 819.3,291.0 819.5,292.7 819.6,294.4 819.8,296.1 819.9,297.9 820.1,299.6 820.2,301.4 820.4,303.1 820.5,304.8 820.7,306.6 820.8,308.3 821.0,310.1 821.1,311.8 821.3,313.6 821.4,315.3 821.6,317.1 821.7,318.8 821.9,320.6 822.0,322.3 822.2,324.1 822.3,325.8 822.5,327.6 822.6,329.3 822.8,331.0 822.9,332.8 823.1,334.5 823.2,336.2" fill="none" stroke="#1010e0" stroke-width="3.4" stroke-linejoin="round" clip-path="url(#clipB)"/>
<polyline points="829.4,404.4 829.6,406.0 829.7,407.5 829.9,409.0 830.0,410.5 830.2,412.0 830.3,413.5 830.5,415.0 830.7,417.0 830.9,419.0 831.1,421.0 831.3,422.9 831.5,424.8 831.7,426.8 831.9,428.7 832.1,430.6 832.3,432.5 832.5,434.3 832.7,436.2 832.9,438.0 833.1,439.9 833.3,441.7 833.5,443.5 833.7,445.3 833.9,447.1 834.1,448.9 834.3,450.6 834.5,452.4 834.7,454.1 834.9,455.8 835.1,457.6 835.3,459.3 835.5,460.9 835.7,462.6 835.9,464.3 836.1,465.9 836.3,467.6 836.5,469.2 836.7,470.8 836.9,472.4 837.1,474.0 837.3,475.6 837.5,477.1 837.7,478.7 837.9,480.2 838.1,481.8 838.3,483.3 838.5,484.8 838.7,486.3 838.9,488.2 839.2,490.0 839.4,491.8 839.7,493.6 839.9,495.4 840.2,497.2 840.4,498.9 840.7,500.6 840.9,502.3 841.2,504.0 841.4,505.7 841.7,507.4 841.9,509.0 842.2,510.7 842.4,512.3 842.7,513.9 842.9,515.5 843.2,517.0 843.4,518.6 843.7,520.1 843.9,521.6 844.2,523.1 844.4,524.6 844.7,526.4 845.0,528.1 845.3,529.9 845.6,531.3" fill="none" stroke="#1010e0" stroke-width="3.4" stroke-linejoin="round" clip-path="url(#clipB)"/>
<polyline points="861.4,597.6 861.9,599.1 862.4,600.6 862.9,602.0 863.4,603.5 863.9,605.0 864.5,606.5 865.0,608.0 865.6,609.4 866.1,610.8 866.7,612.4 867.3,613.8 867.9,615.3 868.5,616.7 869.1,618.1 869.8,619.6 870.4,621.0 871.1,622.4 871.7,623.8 872.4,625.3 873.1,626.7 873.8,628.1 874.5,629.4 875.3,630.8 876.0,632.2 876.8,633.5 877.5,634.9 878.3,636.2 879.1,637.5 879.9,638.8 880.8,640.2 881.6,641.5 882.5,642.8 883.3,644.0 884.2,645.3 885.1,646.5 886.0,647.7 887.0,649.0 887.9,650.2 888.9,651.3 889.9,652.5 890.9,653.7 891.9,654.8 892.9,656.0 894.0,657.1 895.0,658.2 896.1,659.3 897.2,660.4 898.3,661.4 899.5,662.4 900.6,663.5 901.8,664.5 903.0,665.5 904.2,666.4 905.4,667.4 906.6,668.3 907.8,669.2 909.1,670.1 910.3,671.0 911.6,671.8 912.9,672.7 914.2,673.5 915.5,674.3 916.8,675.1 918.1,675.8 919.4,676.6 920.8,677.3 922.1,678.0 923.5,678.7 924.8,679.4 926.2,680.0 927.6,680.7 929.0,681.3 930.4,681.9 931.8,682.5 933.2,683.1 934.6,683.7 936.0,684.2 937.5,684.8 938.9,685.3 940.4,685.8 941.8,686.3 943.3,686.8 944.7,687.3 945.8,687.6" fill="none" stroke="#1010e0" stroke-width="3.4" stroke-linejoin="round" clip-path="url(#clipB)"/>
<polyline points="1012.6,700.3 1014.1,700.4 1015.6,700.6 1017.1,700.8 1018.6,700.9 1020.1,701.1 1021.6,701.2 1023.1,701.4 1024.6,701.5 1026.1,701.6 1027.6,701.8 1029.1,701.9 1030.6,702.0 1032.1,702.2 1033.6,702.3 1035.1,702.4 1036.6,702.6 1038.1,702.7 1039.6,702.8 1041.1,702.9 1042.6,703.0 1044.1,703.1 1045.6,703.2 1047.1,703.4 1048.6,703.5 1050.1,703.6 1051.6,703.7 1053.1,703.8 1054.6,703.9 1056.1,704.0 1057.6,704.1 1059.1,704.2 1060.6,704.3 1062.1,704.4 1063.6,704.4 1065.1,704.5 1066.6,704.6 1068.1,704.7 1069.6,704.8 1071.1,704.9 1072.6,705.0 1074.1,705.0 1075.6,705.1 1077.1,705.2 1078.6,705.3 1080.1,705.3 1081.6,705.4 1083.1,705.5 1084.6,705.6 1086.1,705.6 1087.6,705.7 1089.1,705.8 1090.6,705.9 1092.1,705.9 1093.6,706.0 1095.1,706.1 1096.6,706.1 1098.1,706.2 1099.6,706.2 1101.1,706.3 1102.6,706.4 1104.1,706.4 1105.6,706.5 1107.1,706.5 1108.6,706.6 1110.1,706.7 1111.6,706.7 1113.1,706.8 1114.6,706.8 1116.1,706.9 1117.6,706.9 1119.1,707.0 1120.6,707.0 1122.1,707.1 1123.6,707.1 1125.1,707.2 1126.6,707.2 1128.1,707.3 1129.6,707.3 1131.1,707.4 1132.6,707.4 1134.1,707.5 1135.6,707.5 1137.1,707.6 1138.6,707.6 1140.1,707.7 1141.6,707.7 1143.1,707.7 1144.6,707.8" fill="none" stroke="#1010e0" stroke-width="3.4" stroke-linejoin="round" clip-path="url(#clipB)"/>
<polyline points="1212.6,709.3 1214.1,709.3 1215.6,709.3 1217.1,709.3 1218.6,709.4 1220.1,709.4 1221.6,709.4 1223.1,709.4 1224.6,709.5 1226.1,709.5 1227.6,709.5 1229.1,709.5 1230.6,709.5 1232.1,709.6 1233.6,709.6 1235.1,709.6 1236.6,709.6 1238.1,709.6 1239.6,709.7 1241.1,709.7 1242.6,709.7 1244.1,709.7 1245.6,709.8 1247.1,709.8 1248.6,709.8 1250.1,709.8 1251.6,709.8 1253.1,709.9 1254.6,709.9 1256.1,709.9 1257.6,709.9 1259.1,709.9 1260.6,709.9 1262.1,710.0 1263.6,710.0 1265.1,710.0 1266.6,710.0 1268.1,710.0 1269.6,710.1 1271.1,710.1 1272.6,710.1 1274.1,710.1 1275.6,710.1 1277.1,710.1 1278.6,710.2 1280.1,710.2 1281.6,710.2 1283.1,710.2 1284.6,710.2 1286.1,710.2 1287.6,710.3 1289.1,710.3 1290.6,710.3 1292.1,710.3 1293.6,710.3 1295.1,710.3 1296.6,710.3 1298.1,710.4 1299.6,710.4 1301.1,710.4 1302.6,710.4 1304.1,710.4 1305.6,710.4 1307.1,710.4 1308.6,710.5 1310.1,710.5 1311.6,710.5 1313.1,710.5 1314.6,710.5 1316.1,710.5 1317.6,710.5 1319.1,710.6 1320.6,710.6 1322.1,710.6 1323.5,710.6" fill="none" stroke="#1010e0" stroke-width="3.4" stroke-linejoin="round" clip-path="url(#clipB)"/>
<text transform="translate(824.1,370.5) rotate(84.8) scale(1.0,1)" x="0" y="9.18" text-anchor="middle" font-size="25.5" font-weight="bold" fill="#1010e0">95%</text>
<text transform="translate(847.0,566.0) rotate(76.9) scale(1.0,1)" x="0" y="9.18" text-anchor="middle" font-size="25.5" font-weight="bold" fill="#1010e0">95%</text>
<text transform="translate(978.3,699.0) rotate(10.2) scale(1.0,1)" x="0" y="9.18" text-anchor="middle" font-size="25.5" font-weight="bold" fill="#1010e0">95%</text>
<text transform="translate(1178.5,713.3) rotate(1.2) scale(1.0,1)" x="0" y="9.18" text-anchor="middle" font-size="25.5" font-weight="bold" fill="#1010e0">95%</text>
<polyline points="811.7,96.8 811.9,98.3 812.2,99.9 812.4,101.5 812.7,103.2 812.9,104.9 813.2,106.7 813.4,108.5 813.6,110.0 813.8,111.6 814.0,113.1 814.2,114.8 814.4,116.4 814.6,118.1 814.8,119.8 815.0,121.5 815.2,123.3 815.4,125.1 815.6,126.9 815.8,128.8 816.0,130.7 816.2,132.6 816.4,134.6 816.6,136.6 816.8,138.1 816.9,139.6 817.1,141.2 817.2,142.7 817.4,144.3 817.5,145.9 817.7,147.5 817.8,149.1 818.0,150.8 818.1,152.4 818.3,154.1 818.4,155.8 818.6,157.5 818.7,159.2 818.9,160.9 819.0,162.6 819.2,164.3 819.3,166.1 819.5,167.9 819.6,169.6 819.8,171.4 819.9,173.2 820.1,175.0 820.2,176.9 820.4,178.7 820.5,180.5 820.7,182.4 820.8,184.2 821.0,186.1 821.1,188.0 821.3,189.9 821.4,191.8 821.6,193.7 821.7,195.6 821.9,197.5 822.0,199.4 822.2,201.4 822.3,203.3 822.5,205.2 822.6,207.2 822.8,209.1 822.9,211.1 823.1,213.1 823.2,215.0 823.4,217.0 823.5,219.0 823.7,221.0 823.8,223.0 824.0,224.9 824.1,226.9 824.3,228.9 824.4,230.9 824.6,232.9 824.7,234.9 824.9,236.9 825.0,238.9 825.2,240.9 825.3,242.9 825.5,244.9 825.6,247.0 825.8,249.0 825.9,251.0 826.1,253.0 826.2,255.0 826.4,257.0 826.5,259.0 826.7,261.0 826.8,263.0 827.0,265.0 827.1,267.0 827.3,269.0 827.4,271.0 827.6,273.0 827.7,275.0 827.9,277.0 828.0,279.0 828.2,281.0 828.3,282.9 828.5,284.9 828.6,286.9 828.8,288.9 828.9,290.8 829.1,292.8 829.2,294.7 829.4,296.7 829.5,298.7 829.7,300.6 829.8,302.5 830.0,304.5 830.1,306.4 830.3,308.3 830.4,310.2 830.6,312.2 830.7,314.1 830.9,316.0 831.0,317.2" fill="none" stroke="#86ef3a" stroke-width="3.4" stroke-linejoin="round" clip-path="url(#clipB)"/>
<polyline points="836.8,385.5 836.9,387.1 837.1,388.7 837.2,390.3 837.4,391.9 837.5,393.5 837.7,395.1 837.8,396.6 838.0,398.2 838.1,399.7 838.3,401.3 838.4,402.8 838.6,404.4 838.7,405.9 838.9,407.4 839.0,408.9 839.2,410.4 839.4,412.4 839.6,414.3 839.8,416.3 840.0,418.2 840.2,420.2 840.4,422.1 840.6,424.0 840.8,425.8 841.0,427.7 841.2,429.6 841.4,431.4 841.6,433.2 841.8,435.1 842.0,436.9 842.2,438.6 842.4,440.4 842.6,442.2 842.8,443.9 843.0,445.7 843.2,447.4 843.4,449.1 843.6,450.8 843.8,452.5 844.0,454.1 844.2,455.8 844.4,457.4 844.6,459.1 844.8,460.7 845.0,462.3 845.2,463.9 845.4,465.4 845.6,467.0 845.8,468.6 846.0,470.1 846.2,471.6 846.4,473.2 846.6,474.7 846.8,476.2 847.0,478.0 847.3,479.8 847.5,481.6 847.8,483.4 848.0,485.2 848.3,487.0 848.5,488.7 848.8,490.4 849.0,492.2 849.3,493.8 849.5,495.5 849.8,497.2 850.0,498.8 850.3,500.4 850.5,502.1 850.8,503.6 851.0,505.2 851.3,506.8 851.5,508.3 851.8,509.9 852.0,511.4 852.3,512.9 852.5,514.4 852.8,516.1 853.0,517.3" fill="none" stroke="#86ef3a" stroke-width="3.4" stroke-linejoin="round" clip-path="url(#clipB)"/>
<polyline points="868.2,583.7 868.7,585.1 869.2,586.7 869.7,588.2 870.2,589.7 870.7,591.2 871.2,592.7 871.7,594.1 872.2,595.6 872.7,597.1 873.3,598.6 873.8,600.1 874.4,601.5 874.9,602.9 875.5,604.4 876.1,605.9 876.7,607.4 877.3,608.8 877.9,610.2 878.6,611.7 879.2,613.1 879.9,614.6 880.5,616.0 881.2,617.3 881.9,618.8 882.6,620.2 883.3,621.5 884.0,622.9 884.7,624.3 885.5,625.7 886.2,627.0 887.0,628.3 887.8,629.7 888.6,631.0 889.4,632.3 890.2,633.6 891.0,634.9 891.9,636.2 892.7,637.4 893.6,638.7 894.5,640.0 895.4,641.2 896.4,642.5 897.3,643.7 898.3,644.9 899.2,646.1 900.2,647.3 901.2,648.5 902.2,649.6 903.3,650.7 904.3,651.9 905.4,653.0 906.5,654.1 907.6,655.2 908.7,656.2 909.8,657.3 910.9,658.3 912.1,659.3 913.2,660.3 914.4,661.3 915.6,662.3 916.8,663.2 918.0,664.1 919.3,665.0 920.5,666.0 921.8,666.8 923.0,667.7 924.3,668.5 925.6,669.4 926.9,670.2 928.2,671.0 929.5,671.7 930.9,672.5 932.2,673.3 933.6,674.0 934.9,674.7 936.3,675.4 937.6,676.1 939.0,676.7 940.4,677.4 941.8,678.0 943.2,678.7 944.6,679.3 945.5,679.7" fill="none" stroke="#86ef3a" stroke-width="3.4" stroke-linejoin="round" clip-path="url(#clipB)"/>
<polyline points="1011.4,696.2 1012.9,696.4 1014.4,696.6 1015.9,696.8 1017.4,697.0 1018.9,697.2 1020.4,697.4 1021.9,697.6 1023.4,697.8 1024.9,698.0 1026.4,698.2 1027.9,698.4 1029.4,698.5 1030.9,698.7 1032.4,698.9 1033.9,699.0 1035.4,699.2 1036.9,699.4 1038.4,699.5 1039.9,699.7 1041.4,699.8 1042.9,700.0 1044.4,700.1 1045.9,700.3 1047.4,700.4 1048.9,700.6 1050.4,700.7 1051.9,700.8 1053.4,701.0 1054.9,701.1 1056.4,701.2 1057.9,701.3 1059.4,701.5 1060.9,701.6 1062.4,701.7 1063.9,701.8 1065.4,701.9 1066.9,702.1 1068.4,702.2 1069.9,702.3 1071.4,702.4 1072.9,702.5 1074.4,702.6 1075.9,702.7 1077.4,702.8 1078.9,702.9 1080.4,703.0 1081.9,703.1 1083.4,703.2 1084.9,703.3 1086.4,703.4 1087.9,703.5 1089.4,703.6 1090.9,703.7 1092.4,703.7 1093.9,703.8 1095.4,703.9 1096.9,704.0 1098.4,704.1 1099.9,704.2 1101.4,704.3 1102.9,704.3 1104.4,704.4 1105.9,704.5 1107.4,704.6 1108.9,704.6 1110.4,704.7 1111.9,704.8 1113.4,704.9 1114.9,704.9 1116.4,705.0 1117.9,705.1 1119.4,705.1 1120.9,705.2 1122.4,705.3 1123.9,705.3 1125.4,705.4 1126.9,705.5 1128.4,705.5 1129.9,705.6 1131.4,705.7 1132.9,705.7 1134.4,705.8 1135.9,705.8 1137.4,705.9 1138.9,706.0 1140.4,706.0 1140.4,706.0" fill="none" stroke="#86ef3a" stroke-width="3.4" stroke-linejoin="round" clip-path="url(#clipB)"/>
<polyline points="1208.4,708.0 1209.9,708.0 1211.4,708.1 1212.9,708.1 1214.4,708.1 1215.9,708.2 1217.4,708.2 1218.9,708.2 1220.4,708.3 1221.9,708.3 1223.4,708.3 1224.9,708.4 1226.4,708.4 1227.9,708.4 1229.4,708.4 1230.9,708.5 1232.4,708.5 1233.9,708.5 1235.4,708.6 1236.9,708.6 1238.4,708.6 1239.9,708.6 1241.4,708.7 1242.9,708.7 1244.4,708.7 1245.9,708.7 1247.4,708.8 1248.9,708.8 1250.4,708.8 1251.9,708.8 1253.4,708.9 1254.9,708.9 1256.4,708.9 1257.9,708.9 1259.4,709.0 1260.9,709.0 1262.4,709.0 1263.9,709.0 1265.4,709.1 1266.9,709.1 1268.4,709.1 1269.9,709.1 1271.4,709.2 1272.9,709.2 1274.4,709.2 1275.9,709.2 1277.4,709.2 1278.9,709.3 1280.4,709.3 1281.9,709.3 1283.4,709.3 1284.9,709.4 1286.4,709.4 1287.9,709.4 1289.4,709.4 1290.9,709.4 1292.4,709.5 1293.9,709.5 1295.4,709.5 1296.9,709.5 1298.4,709.5 1299.9,709.6 1301.4,709.6 1302.9,709.6 1304.4,709.6 1305.9,709.6 1307.4,709.6 1308.9,709.7 1310.4,709.7 1311.9,709.7 1313.4,709.7 1314.9,709.7 1316.4,709.8 1317.9,709.8 1319.4,709.8 1320.9,709.8 1322.4,709.8 1323.5,709.8" fill="none" stroke="#86ef3a" stroke-width="3.4" stroke-linejoin="round" clip-path="url(#clipB)"/>
<text transform="translate(833.6,351.4) rotate(85.2) scale(1.0,1)" x="0" y="9.18" text-anchor="middle" font-size="25.5" font-weight="bold" fill="#86ef3a">99%</text>
<text transform="translate(859.7,550.7) rotate(77.4) scale(1.0,1)" x="0" y="9.18" text-anchor="middle" font-size="25.5" font-weight="bold" fill="#86ef3a">99%</text>
<text transform="translate(977.7,691.0) rotate(13.4) scale(1.0,1)" x="0" y="9.18" text-anchor="middle" font-size="25.5" font-weight="bold" fill="#86ef3a">99%</text>
<text transform="translate(1174.5,705.0) rotate(1.7) scale(1.0,1)" x="0" y="9.18" text-anchor="middle" font-size="25.5" font-weight="bold" fill="#86ef3a">99%</text>
<rect x="801.3" y="191.0" width="522.20" height="522.00" fill="none" stroke="#000" stroke-width="5"/>
<line x1="801.3" y1="713.00" x2="788.10" y2="713.00" stroke="#000" stroke-width="5" stroke-linecap="round"/>
<text transform="translate(773.10,721.80) scale(0.9550,1)" text-anchor="end" font-size="23.0" font-weight="bold" fill="#000">0</text>
<line x1="801.3" y1="678.20" x2="793.70" y2="678.20" stroke="#000" stroke-width="3"/>
<line x1="801.3" y1="643.40" x2="793.70" y2="643.40" stroke="#000" stroke-width="3"/>
<line x1="801.3" y1="608.60" x2="793.70" y2="608.60" stroke="#000" stroke-width="3"/>
<line x1="801.3" y1="573.80" x2="793.70" y2="573.80" stroke="#000" stroke-width="3"/>
<line x1="801.3" y1="539.00" x2="788.10" y2="539.00" stroke="#000" stroke-width="5" stroke-linecap="round"/>
<text transform="translate(773.10,547.80) scale(0.9550,1)" text-anchor="end" font-size="23.0" font-weight="bold" fill="#000">25</text>
<line x1="801.3" y1="504.20" x2="793.70" y2="504.20" stroke="#000" stroke-width="3"/>
<line x1="801.3" y1="469.40" x2="793.70" y2="469.40" stroke="#000" stroke-width="3"/>
<line x1="801.3" y1="434.60" x2="793.70" y2="434.60" stroke="#000" stroke-width="3"/>
<line x1="801.3" y1="399.80" x2="793.70" y2="399.80" stroke="#000" stroke-width="3"/>
<line x1="801.3" y1="365.00" x2="788.10" y2="365.00" stroke="#000" stroke-width="5" stroke-linecap="round"/>
<text transform="translate(773.10,373.80) scale(0.9550,1)" text-anchor="end" font-size="23.0" font-weight="bold" fill="#000">50</text>
<line x1="801.3" y1="330.20" x2="793.70" y2="330.20" stroke="#000" stroke-width="3"/>
<line x1="801.3" y1="295.40" x2="793.70" y2="295.40" stroke="#000" stroke-width="3"/>
<line x1="801.3" y1="260.60" x2="793.70" y2="260.60" stroke="#000" stroke-width="3"/>
<line x1="801.3" y1="225.80" x2="793.70" y2="225.80" stroke="#000" stroke-width="3"/>
<line x1="801.3" y1="191.00" x2="788.10" y2="191.00" stroke="#000" stroke-width="5" stroke-linecap="round"/>
<text transform="translate(773.10,199.80) scale(0.9550,1)" text-anchor="end" font-size="23.0" font-weight="bold" fill="#000">75</text>
<line x1="801.30" y1="713.0" x2="801.30" y2="725.00" stroke="#000" stroke-width="4.8" stroke-linecap="round"/>
<text transform="translate(801.30,745.50) scale(0.9550,1)" text-anchor="middle" font-size="23.0" font-weight="bold" fill="#000">.0</text>
<line x1="863.96" y1="713.0" x2="863.96" y2="725.00" stroke="#000" stroke-width="4.8" stroke-linecap="round"/>
<text transform="translate(863.96,745.50) scale(0.9550,1)" text-anchor="middle" font-size="23.0" font-weight="bold" fill="#000">.01</text>
<line x1="926.63" y1="713.0" x2="926.63" y2="725.00" stroke="#000" stroke-width="4.8" stroke-linecap="round"/>
<text transform="translate(926.63,745.50) scale(0.9550,1)" text-anchor="middle" font-size="23.0" font-weight="bold" fill="#000">.02</text>
<line x1="989.29" y1="713.0" x2="989.29" y2="725.00" stroke="#000" stroke-width="4.8" stroke-linecap="round"/>
<text transform="translate(989.29,745.50) scale(0.9550,1)" text-anchor="middle" font-size="23.0" font-weight="bold" fill="#000">.03</text>
<line x1="1064.49" y1="713.0" x2="1064.49" y2="725.00" stroke="#000" stroke-width="4.8" stroke-linecap="round"/>
<text transform="translate(1064.49,745.50) scale(0.9550,1)" text-anchor="middle" font-size="23.0" font-weight="bold" fill="#000">.042</text>
<line x1="1152.22" y1="713.0" x2="1152.22" y2="725.00" stroke="#000" stroke-width="4.8" stroke-linecap="round"/>
<text transform="translate(1152.22,745.50) scale(0.9550,1)" text-anchor="middle" font-size="23.0" font-weight="bold" fill="#000">.056</text>
<line x1="1323.50" y1="713.0" x2="1323.50" y2="725.00" stroke="#000" stroke-width="4.8" stroke-linecap="round"/>
<text transform="translate(1323.50,745.50) scale(0.9550,1)" text-anchor="middle" font-size="23.0" font-weight="bold" fill="#000">.083</text>
<line x1="811.74" y1="191.0" x2="811.74" y2="178.00" stroke="#000" stroke-width="4.8" stroke-linecap="round"/>
<text transform="translate(811.74,175.30) scale(0.9550,1)" text-anchor="middle" font-size="23.0" font-weight="bold" fill="#000">50</text>
<line x1="853.52" y1="191.0" x2="853.52" y2="178.00" stroke="#000" stroke-width="4.8" stroke-linecap="round"/>
<text transform="translate(853.52,175.30) scale(0.9550,1)" text-anchor="middle" font-size="23.0" font-weight="bold" fill="#000">10</text>
<line x1="905.74" y1="191.0" x2="905.74" y2="178.00" stroke="#000" stroke-width="4.8" stroke-linecap="round"/>
<text transform="translate(905.74,175.30) scale(0.9550,1)" text-anchor="middle" font-size="23.0" font-weight="bold" fill="#000">5</text>
<line x1="975.37" y1="191.0" x2="975.37" y2="178.00" stroke="#000" stroke-width="4.8" stroke-linecap="round"/>
<text transform="translate(975.37,175.30) scale(0.9550,1)" text-anchor="middle" font-size="23.0" font-weight="bold" fill="#000">3</text>
<line x1="1062.40" y1="191.0" x2="1062.40" y2="178.00" stroke="#000" stroke-width="4.8" stroke-linecap="round"/>
<text transform="translate(1062.40,175.30) scale(0.9550,1)" text-anchor="middle" font-size="23.0" font-weight="bold" fill="#000">2</text>
<line x1="1149.43" y1="191.0" x2="1149.43" y2="178.00" stroke="#000" stroke-width="4.8" stroke-linecap="round"/>
<text transform="translate(1149.43,175.30) scale(0.9550,1)" text-anchor="middle" font-size="23.0" font-weight="bold" fill="#000">1.5</text>
<line x1="1323.50" y1="191.0" x2="1323.50" y2="178.00" stroke="#000" stroke-width="4.8" stroke-linecap="round"/>
<text transform="translate(1323.50,175.30) scale(0.9550,1)" text-anchor="middle" font-size="23.0" font-weight="bold" fill="#000">1</text>
<text transform="translate(1062.40,789.20) scale(0.9300,1)" text-anchor="middle" font-size="32.0" fill="#000" stroke="#000" stroke-width="0.9" stroke-linejoin="round">Frequency (cycles mo<tspan dy="-14.5" font-size="17.5">-1</tspan><tspan dy="14.5">)</tspan></text>
<text transform="translate(728.80,453.00) rotate(-90) scale(0.9370,1)" text-anchor="middle" font-size="32.0" fill="#000" stroke="#000" stroke-width="0.9" stroke-linejoin="round">Power (<tspan dy="-14.5" font-size="17.5">o</tspan><tspan dy="14.5">C</tspan><tspan dy="-14.5" font-size="17.5">2</tspan><tspan dy="14.5"> / cycles mo</tspan><tspan dy="-14.5" font-size="17.5">-1</tspan><tspan dy="14.5">)</tspan></text>
<text transform="translate(695.20,139.70) scale(0.9500,1)" text-anchor="start" font-size="43.5" font-weight="bold" fill="#000">B</text>
<text transform="translate(841.50,139.60) scale(0.9650,1)" text-anchor="start" font-size="39.5" font-weight="normal" fill="#000">CTRL</text>
<clipPath id="clipC"><rect x="105.4" y="892.4" width="522.00" height="521.80"/></clipPath>
<polyline points="105.6,1384.8 108.5,1384.3 111.5,1382.3 115.7,1374.8 122.4,1368.5 127.5,1365.8 129.6,1362.3 132.3,1348.3 135.0,1337.8 140.0,1340.8 146.0,1349.3 150.7,1347.8 153.3,1342.8 157.8,1344.9 162.2,1356.4 164.9,1364.9 168.4,1361.7 172.9,1352.9 175.6,1348.4 178.2,1349.3 180.9,1347.5 183.1,1338.6 186.5,1318.2 191.2,1296.9 196.0,1280.3 199.5,1276.3 207.8,1273.2 211.4,1280.3 214.9,1295.7 219.7,1309.9 224.4,1325.8 229.1,1323.8 235.1,1317.1 237.4,1300.5 241.0,1271.3 243.4,1262.3 250.5,1272.0 255.2,1280.3 260.0,1300.5 265.9,1314.7 268.2,1330.1 270.6,1347.9 273.0,1363.3 275.5,1355.3 280.0,1346.8 285.0,1339.6 291.0,1336.3 297.9,1330.1 301.4,1338.4 305.0,1345.5 309.7,1345.5 312.1,1350.2 320.4,1343.1 326.3,1352.6 332.2,1358.5 338.2,1365.6 342.9,1366.8 350.2,1387.0 357.3,1385.8 373.9,1394.7 385.7,1394.7 397.6,1388.8 411.8,1384.6 423.7,1392.9 437.9,1392.3 448.5,1385.8 460.4,1394.7 472.2,1399.4 489.3,1399.0 524.6,1400.2 546.0,1404.0 574.9,1402.8 596.3,1405.9 624.9,1407.2" fill="none" stroke="#b1b1b1" stroke-width="5.0" stroke-linejoin="round" clip-path="url(#clipC)"/>
<polyline points="108.3,1402.1 109.1,1402.1 110.3,1402.1 111.6,1402.1 113.1,1402.0 114.7,1402.0 116.2,1401.9 117.7,1401.7 119.0,1401.5 120.2,1401.2 121.2,1400.8 122.3,1400.4 123.3,1400.0 124.3,1399.5 125.3,1398.9 126.3,1398.4 127.3,1397.9 128.3,1397.4 129.3,1396.8 130.3,1396.1 131.2,1395.5 132.2,1394.9 133.3,1394.3 134.4,1393.7 135.6,1393.2 136.9,1392.7 138.4,1392.3 139.9,1391.9 141.4,1391.5 143.0,1391.2 144.5,1390.8 146.0,1390.5 147.4,1390.2 148.7,1389.9 149.9,1389.6 151.1,1389.2 152.3,1388.9 153.4,1388.7 154.6,1388.5 155.7,1388.4 156.9,1388.4 158.1,1388.5 159.3,1388.8 160.5,1389.1 161.7,1389.5 162.8,1389.9 164.0,1390.4 165.2,1390.9 166.4,1391.4 167.6,1391.9 168.8,1392.6 170.1,1393.2 171.3,1393.9 172.5,1394.6 173.7,1395.2 174.8,1395.7 175.9,1396.1 176.9,1396.4 177.8,1396.6 178.7,1396.8 179.6,1396.9 180.4,1397.0 181.3,1396.9 182.1,1396.8 183.0,1396.7 183.9,1396.5 184.8,1396.1 185.8,1395.7 186.7,1395.2 187.6,1394.7 188.5,1394.2 189.3,1393.7 190.1,1393.2 190.8,1392.8 191.4,1392.3 192.0,1391.9 192.5,1391.5 193.1,1391.0 193.6,1390.6 194.2,1390.1 194.8,1389.6 195.5,1389.1 196.2,1388.6 196.9,1388.0 197.7,1387.5 198.4,1386.9 199.2,1386.3 199.9,1385.6 200.7,1384.9 201.4,1384.2 202.2,1383.4 202.9,1382.6 203.7,1381.7 204.5,1380.8 205.2,1379.9 206.0,1378.9 206.7,1377.8 207.5,1376.6 208.2,1375.3 209.0,1373.9 209.7,1372.5 210.5,1371.1 211.2,1369.7 211.9,1368.3 212.6,1367.1 213.2,1366.0 213.9,1364.9 214.5,1364.0 215.1,1363.0 215.6,1362.1 216.2,1361.1 216.7,1360.1 217.3,1359.0 217.8,1357.9 218.3,1356.8 218.8,1355.7 219.3,1354.6 219.8,1353.4 220.3,1352.0 220.9,1350.6 221.5,1349.0 222.1,1347.2 222.8,1345.3 223.5,1343.3 224.2,1341.1 225.0,1338.9 225.8,1336.6 226.6,1334.3 227.4,1331.9 228.3,1329.4 229.2,1326.6 230.2,1323.6 231.2,1320.7 232.2,1317.8 233.1,1315.2 234.0,1312.9 234.8,1311.1 235.5,1309.7 236.0,1308.6 236.4,1307.8 236.9,1307.3 237.3,1307.0 237.8,1306.9 238.5,1307.0 239.3,1307.4 240.3,1308.0 241.5,1309.0 242.9,1310.3 244.3,1311.7 245.7,1313.3 247.1,1315.0 248.4,1316.8 249.6,1318.5 250.7,1320.3 251.7,1322.1 252.6,1324.1 253.5,1326.1 254.4,1328.2 255.2,1330.4 256.1,1332.6 257.0,1334.8 257.9,1337.1 258.8,1339.6 259.8,1342.1 260.7,1344.6 261.6,1347.2 262.5,1349.6 263.5,1352.0 264.4,1354.1 265.3,1356.1 266.2,1358.0 267.1,1359.9 268.0,1361.6 268.9,1363.2 269.8,1364.7 270.8,1366.1 271.9,1367.4 273.1,1368.5 274.3,1369.5 275.7,1370.3 277.1,1371.0 278.4,1371.6 279.8,1372.2 281.0,1372.8 282.2,1373.3 283.3,1373.8 284.3,1374.1 285.2,1374.4 286.1,1374.6 287.0,1374.9 287.8,1375.2 288.7,1375.7 289.6,1376.3 290.5,1377.1 291.5,1378.1 292.4,1379.2 293.4,1380.4 294.3,1381.6 295.2,1382.8 296.1,1384.0 297.0,1385.2 297.8,1386.3 298.6,1387.5 299.4,1388.7 300.1,1389.9 300.8,1391.0 301.5,1392.1 302.3,1393.2 303.0,1394.1 303.7,1395.0 304.3,1395.7 304.8,1396.5 305.4,1397.2 306.0,1397.8 306.8,1398.4 307.7,1398.9 308.9,1399.3 310.3,1399.7 312.0,1399.9 313.8,1400.1 315.7,1400.3 317.8,1400.4 319.8,1400.5 321.8,1400.6 323.7,1400.7 325.6,1400.8 327.4,1401.0 329.2,1401.1 331.1,1401.2 332.9,1401.3 334.8,1401.4 336.6,1401.4 338.5,1401.5 340.4,1401.6 342.2,1401.6 344.1,1401.7 345.9,1401.7 347.8,1401.8 349.6,1401.7 351.4,1401.6 353.3,1401.5 355.1,1401.2 357.0,1400.8 358.8,1400.3 360.7,1399.8 362.5,1399.3 364.4,1398.9 366.2,1398.6 368.1,1398.5 370.0,1398.6 371.8,1398.9 373.7,1399.3 375.6,1399.7 377.4,1400.2 379.3,1400.7 381.1,1401.2 383.0,1401.5 384.8,1401.8 386.5,1402.0 388.2,1402.2 389.9,1402.4 391.7,1402.5 393.6,1402.7 395.6,1402.8 397.8,1403.0 400.3,1403.2 403.1,1403.4 406.0,1403.6 409.1,1403.8 412.1,1404.0 415.0,1404.2 417.7,1404.3 420.0,1404.4 421.9,1404.4 423.5,1404.4 424.8,1404.3 426.0,1404.1 427.1,1404.0 428.4,1403.9 430.0,1403.9 431.9,1403.9 434.1,1404.0 436.4,1404.2 438.8,1404.4 441.4,1404.7 444.2,1405.0 447.2,1405.3 450.5,1405.5 454.0,1405.7 457.9,1405.9 462.2,1406.0 466.7,1406.1 471.4,1406.2 476.3,1406.3 481.3,1406.4 486.2,1406.6 491.0,1406.7 495.8,1406.9 500.6,1407.0 505.4,1407.2 510.3,1407.4 515.2,1407.6 520.1,1407.8 525.1,1407.9 530.0,1408.0 535.0,1408.0 540.2,1408.0 545.4,1407.9 550.6,1407.8 555.7,1407.7 560.7,1407.6 565.5,1407.5 570.0,1407.5 574.3,1407.6 578.3,1407.7 582.2,1407.8 585.9,1407.9 589.6,1408.1 593.1,1408.2 596.6,1408.4 600.0,1408.5 603.5,1408.6 607.2,1408.7 610.8,1408.7 614.3,1408.8 617.6,1408.9 620.5,1408.9 623.0,1409.0 624.9,1409.0" fill="none" stroke="#000" stroke-width="5.0" stroke-linejoin="round" clip-path="url(#clipC)"/>
<polyline points="110.4,1202.6 111.0,1204.0 111.5,1205.5 112.1,1207.0 112.6,1208.4 113.1,1210.0 113.6,1211.6 114.0,1213.1 114.5,1214.6 114.9,1216.1 115.4,1217.8 115.8,1219.2 116.2,1220.7 116.6,1222.2 117.0,1223.7 117.4,1225.3 117.8,1226.9 118.2,1228.5 118.6,1230.1 119.0,1231.7 119.4,1233.3 119.8,1235.0 120.2,1236.6 120.6,1238.3 120.9,1239.8 121.3,1241.2 121.6,1242.7 122.0,1244.2 122.3,1245.7 122.7,1247.2 123.0,1248.6 123.4,1250.1 123.7,1251.6 124.1,1253.1 124.4,1254.6 124.8,1256.0 125.1,1257.5 125.5,1259.0 125.8,1260.4 126.2,1261.9 126.6,1263.6 127.0,1265.2 127.4,1266.9 127.8,1268.5 128.2,1270.1 128.6,1271.7 129.0,1273.3 129.4,1274.9 129.8,1276.5 130.2,1278.1 130.6,1279.7 131.0,1281.2 131.4,1282.7 131.8,1284.3 132.2,1285.8 132.6,1287.3 133.0,1288.8 133.4,1290.2 133.8,1291.7 134.2,1293.3 134.7,1294.9 135.1,1296.5 135.6,1298.0 136.0,1299.6 136.5,1301.1 136.9,1302.6 137.4,1304.1 137.8,1305.5 138.3,1307.0 138.8,1308.6 139.3,1310.1 139.8,1311.7 140.3,1313.2 140.8,1314.7 141.3,1316.2 141.8,1317.6 142.3,1319.0 142.8,1320.6 143.4,1322.1 143.9,1323.6 144.5,1325.0 145.0,1326.5 145.6,1327.9 146.2,1329.4 146.8,1330.8 147.4,1332.3 148.0,1333.7 148.6,1335.1 149.2,1336.6 149.9,1338.0 150.5,1339.4 151.2,1340.8 151.9,1342.2 152.6,1343.7 153.3,1345.0 154.0,1346.4 154.7,1347.8 155.5,1349.2 156.2,1350.5 157.0,1351.8 157.8,1353.2 158.6,1354.5 159.4,1355.8 160.2,1357.1 161.1,1358.4 161.9,1359.6 162.8,1360.9 163.7,1362.1 164.6,1363.3 165.6,1364.6 166.5,1365.8 167.5,1367.0 168.5,1368.2 169.5,1369.3 170.6,1370.5 171.6,1371.6 172.7,1372.7 173.8,1373.8 174.9,1374.8 176.0,1375.9 177.2,1376.9 178.3,1377.9 179.5,1378.9 180.7,1379.9 181.9,1380.8 183.2,1381.7 184.4,1382.6 185.7,1383.4 187.0,1384.3 188.3,1385.1 189.6,1385.9 190.9,1386.7 192.2,1387.5 193.6,1388.2 194.9,1388.9 196.3,1389.6 197.6,1390.2 199.0,1390.9 200.4,1391.5 201.8,1392.1 203.2,1392.7 204.6,1393.3 206.0,1393.8 207.5,1394.4 208.9,1394.9 210.4,1395.4 211.8,1395.9 213.3,1396.4 214.7,1396.8 216.2,1397.2 217.6,1397.7 219.1,1398.1 220.5,1398.5 222.0,1398.8 223.5,1399.2 225.0,1399.6 226.5,1399.9 228.0,1400.3 229.5,1400.6 231.0,1400.9 232.5,1401.2 234.0,1401.5 235.5,1401.8 237.0,1402.1 238.5,1402.4 240.0,1402.6 241.5,1402.9 243.0,1403.1 244.5,1403.4 246.0,1403.6 247.5,1403.8 249.0,1404.0 250.5,1404.2 252.0,1404.5 253.5,1404.7 255.0,1404.8 256.5,1405.0 258.0,1405.2 259.5,1405.4 261.0,1405.6 262.5,1405.7 264.0,1405.9 265.5,1406.0 267.0,1406.2 268.5,1406.4 270.0,1406.5 271.5,1406.6 273.0,1406.8 274.5,1406.9 276.0,1407.0 277.5,1407.2 279.0,1407.3 280.5,1407.4 282.0,1407.5 283.5,1407.7 285.0,1407.8 286.5,1407.9 288.0,1408.0 289.5,1408.1 291.0,1408.2 292.5,1408.3 294.0,1408.4 295.5,1408.5 297.0,1408.6 298.5,1408.7 300.0,1408.8 301.5,1408.8 303.0,1408.9 304.5,1409.0 306.0,1409.1 307.5,1409.2 309.0,1409.2 310.5,1409.3 312.0,1409.4 313.5,1409.5 315.0,1409.5 316.5,1409.6 318.0,1409.7 319.5,1409.7 321.0,1409.8 322.5,1409.9 324.0,1409.9 325.5,1410.0 327.0,1410.0 328.5,1410.1 330.0,1410.2 331.5,1410.2 333.0,1410.3 334.5,1410.3 336.0,1410.4 337.5,1410.4 339.0,1410.5 340.5,1410.5 342.0,1410.6 343.5,1410.6 345.0,1410.7 346.5,1410.7 348.0,1410.8 349.5,1410.8 351.0,1410.9 352.5,1410.9 354.0,1410.9 355.5,1411.0 357.0,1411.0 358.5,1411.1 360.0,1411.1 361.5,1411.1 363.0,1411.2 364.5,1411.2 366.0,1411.3 367.5,1411.3 369.0,1411.3 370.5,1411.4 372.0,1411.4 373.5,1411.4 375.0,1411.5 376.5,1411.5 378.0,1411.5 379.5,1411.6 381.0,1411.6 382.5,1411.6 384.0,1411.6 385.5,1411.7 387.0,1411.7 388.5,1411.7 390.0,1411.8 391.5,1411.8 393.0,1411.8 394.5,1411.8 396.0,1411.9 397.5,1411.9 399.0,1411.9 400.5,1411.9 402.0,1412.0 403.5,1412.0 405.0,1412.0 406.5,1412.0 408.0,1412.1 409.5,1412.1 411.0,1412.1 412.5,1412.1 414.0,1412.1 415.5,1412.2 417.0,1412.2 418.5,1412.2 420.0,1412.2 421.5,1412.2 423.0,1412.3 424.5,1412.3 426.0,1412.3 427.5,1412.3 429.0,1412.3 430.5,1412.4 432.0,1412.4 433.5,1412.4 435.0,1412.4 436.5,1412.4 438.0,1412.4 439.5,1412.5 441.0,1412.5 442.5,1412.5 444.0,1412.5 445.5,1412.5 447.0,1412.5 448.5,1412.6 450.0,1412.6 451.5,1412.6 453.0,1412.6 454.5,1412.6 456.0,1412.6 457.5,1412.6 459.0,1412.7 460.5,1412.7 462.0,1412.7 463.5,1412.7 465.0,1412.7 466.5,1412.7 468.0,1412.7 469.5,1412.8 471.0,1412.8 472.5,1412.8 474.0,1412.8 475.5,1412.8 477.0,1412.8 478.5,1412.8 480.0,1412.8 481.5,1412.9 483.0,1412.9 484.5,1412.9 486.0,1412.9 487.5,1412.9 489.0,1412.9 490.5,1412.9 492.0,1412.9 493.5,1412.9 495.0,1413.0 496.5,1413.0 498.0,1413.0 499.5,1413.0 501.0,1413.0 502.5,1413.0 504.0,1413.0 505.5,1413.0 507.0,1413.0 508.5,1413.0 510.0,1413.0 511.5,1413.1 513.0,1413.1 514.5,1413.1 516.0,1413.1 517.5,1413.1 519.0,1413.1 520.5,1413.1 522.0,1413.1 523.5,1413.1 525.0,1413.1 526.5,1413.1 528.0,1413.2 529.5,1413.2 531.0,1413.2 532.5,1413.2 534.0,1413.2 535.5,1413.2 537.0,1413.2 538.5,1413.2 540.0,1413.2 541.5,1413.2 543.0,1413.2 544.5,1413.2 546.0,1413.2 547.5,1413.2 549.0,1413.3 550.5,1413.3 552.0,1413.3 553.5,1413.3 555.0,1413.3 556.5,1413.3 558.0,1413.3 559.5,1413.3 561.0,1413.3 562.5,1413.3 564.0,1413.3 565.5,1413.3 567.0,1413.3 568.5,1413.3 570.0,1413.3 571.5,1413.4 573.0,1413.4 574.5,1413.4 576.0,1413.4 577.5,1413.4 579.0,1413.4 580.5,1413.4 582.0,1413.4 583.5,1413.4 585.0,1413.4 586.5,1413.4 588.0,1413.4 589.5,1413.4 591.0,1413.4 592.5,1413.4 594.0,1413.4 595.5,1413.4 597.0,1413.4 598.5,1413.4 600.0,1413.5 601.5,1413.5 603.0,1413.5 604.5,1413.5 606.0,1413.5 607.5,1413.5 609.0,1413.5 610.5,1413.5 612.0,1413.5 613.5,1413.5 615.0,1413.5 616.5,1413.5 618.0,1413.5 619.5,1413.5 621.0,1413.5 622.5,1413.5 624.0,1413.5 625.5,1413.5 627.0,1413.5 627.4,1413.5" fill="none" stroke="#d40d12" stroke-width="3.6" stroke-linejoin="round" clip-path="url(#clipC)"/>
<polyline points="110.8,1043.3 111.3,1044.9 111.8,1046.5 112.3,1048.0 112.7,1049.5 113.1,1051.1 113.4,1052.6 113.8,1054.2 114.1,1055.8 114.5,1057.5 114.8,1059.0 115.1,1060.5 115.4,1062.2 115.7,1063.8 116.0,1065.5 116.3,1067.3 116.5,1068.8 116.8,1070.3 117.0,1071.9 117.3,1073.4 117.5,1075.1 117.8,1076.7 118.0,1078.4 118.3,1080.1 118.5,1081.8 118.8,1083.5 119.0,1085.3 119.3,1087.0 119.5,1088.9 119.8,1090.7 120.0,1092.5 120.3,1094.4 120.5,1095.9 120.7,1097.4 120.9,1098.9 121.1,1100.4 121.3,1102.0 121.5,1103.5 121.7,1105.1 121.9,1106.6 122.1,1108.2 122.3,1109.8 122.5,1111.3 122.7,1112.9 122.9,1114.5 123.1,1116.1 123.3,1117.7 123.5,1119.3 123.7,1120.9 123.9,1122.5 124.1,1124.1 124.3,1125.7 124.5,1127.3 124.7,1129.0 124.9,1130.6 125.1,1132.2 125.3,1133.8 125.5,1135.4 125.7,1137.0 125.9,1138.6 126.1,1140.3 126.3,1141.9 126.5,1143.5 126.7,1145.1 126.9,1146.7 127.1,1148.3 127.3,1149.9 127.5,1151.5 127.7,1153.1 127.9,1154.7 128.1,1156.2 128.3,1157.8 128.5,1159.4 128.7,1161.0 128.9,1162.5 129.1,1164.1 129.3,1165.6 129.5,1167.2 129.7,1168.7 129.9,1170.3 129.9,1170.6" fill="none" stroke="#1010e0" stroke-width="3.4" stroke-linejoin="round" clip-path="url(#clipC)"/>
<polyline points="140.1,1238.3 140.4,1240.0 140.7,1241.7 141.0,1243.3 141.3,1244.9 141.6,1246.5 141.9,1248.1 142.2,1249.6 142.5,1251.2 142.8,1252.7 143.1,1254.2 143.4,1255.7 143.7,1257.2 144.0,1258.9 144.4,1260.5 144.7,1262.2 145.1,1263.8 145.4,1265.4 145.8,1267.0 146.1,1268.5 146.5,1270.1 146.8,1271.6 147.2,1273.1 147.5,1274.6 147.9,1276.2 148.3,1277.9 148.7,1279.5 149.1,1281.0 149.5,1282.6 149.9,1284.1 150.3,1285.6 150.7,1287.1 151.1,1288.6 151.6,1290.2 152.0,1291.8 152.5,1293.4 152.9,1294.9 153.4,1296.4 153.8,1297.9 154.3,1299.3 154.8,1300.9 155.3,1302.5 155.8,1304.0 156.3,1305.5 156.8,1306.9 157.3,1308.4 157.8,1309.9 158.4,1311.4 158.9,1312.9 159.5,1314.4 160.0,1315.8 160.6,1317.3 161.2,1318.8 161.8,1320.3 162.4,1321.7 163.0,1323.1 163.7,1324.5 164.3,1326.0 165.0,1327.4 165.6,1328.7 166.3,1330.2 167.0,1331.6 167.7,1333.0 168.4,1334.3 169.2,1335.7 169.9,1337.0 170.7,1338.4 171.5,1339.7 172.3,1341.1 173.1,1342.4 173.9,1343.7 174.8,1345.0 175.6,1346.3 176.5,1347.6 177.4,1348.9 178.3,1350.1 179.3,1351.4 180.2,1352.6 181.2,1353.8 182.2,1355.0 183.2,1356.2 184.2,1357.3 185.2,1358.5 185.5,1358.7" fill="none" stroke="#1010e0" stroke-width="3.4" stroke-linejoin="round" clip-path="url(#clipC)"/>
<polyline points="244.2,1391.3 245.6,1391.7 247.1,1392.1 248.6,1392.4 250.1,1392.8 251.6,1393.2 253.1,1393.5 254.6,1393.9 256.1,1394.2 257.6,1394.5 259.1,1394.8 260.6,1395.1 262.1,1395.4 263.6,1395.7 265.1,1396.0 266.6,1396.3 268.1,1396.6 269.6,1396.8 271.1,1397.1 272.6,1397.3 274.1,1397.6 275.6,1397.8 277.1,1398.1 278.6,1398.3 280.1,1398.5 281.6,1398.7 283.1,1399.0 284.6,1399.2 286.1,1399.4 287.6,1399.6 289.1,1399.8 290.6,1400.0 292.1,1400.2 293.6,1400.3 295.1,1400.5 296.6,1400.7 298.1,1400.9 299.6,1401.0 301.1,1401.2 302.6,1401.4 304.1,1401.5 305.6,1401.7 307.1,1401.8 308.6,1402.0 310.1,1402.1 311.6,1402.3 313.1,1402.4 314.6,1402.6 316.1,1402.7 317.6,1402.8 319.1,1403.0 320.6,1403.1 322.1,1403.2 323.6,1403.4 325.1,1403.5 326.6,1403.6 328.1,1403.7 329.6,1403.8 331.1,1403.9 332.6,1404.1 334.1,1404.2 335.6,1404.3 337.1,1404.4 338.6,1404.5 340.1,1404.6 341.6,1404.7 343.1,1404.8 344.6,1404.9 346.1,1405.0 347.6,1405.1 349.1,1405.2 350.6,1405.3 352.1,1405.4 353.6,1405.4 355.1,1405.5 356.6,1405.6 358.1,1405.7 359.6,1405.8 361.1,1405.9 362.6,1405.9 364.1,1406.0 365.6,1406.1 367.1,1406.2 368.6,1406.3 370.1,1406.3 371.6,1406.4 372.1,1406.4" fill="none" stroke="#1010e0" stroke-width="3.4" stroke-linejoin="round" clip-path="url(#clipC)"/>
<polyline points="440.1,1408.9 441.6,1408.9 443.1,1409.0 444.6,1409.0 446.1,1409.0 447.6,1409.1 449.1,1409.1 450.6,1409.1 452.1,1409.2 453.6,1409.2 455.1,1409.3 456.6,1409.3 458.1,1409.3 459.6,1409.4 461.1,1409.4 462.6,1409.4 464.1,1409.5 465.6,1409.5 467.1,1409.5 468.6,1409.6 470.1,1409.6 471.6,1409.6 473.1,1409.6 474.6,1409.7 476.1,1409.7 477.6,1409.7 479.1,1409.8 480.6,1409.8 482.1,1409.8 483.6,1409.9 485.1,1409.9 486.6,1409.9 488.1,1409.9 489.6,1410.0 491.1,1410.0 492.6,1410.0 494.1,1410.1 495.6,1410.1 497.1,1410.1 498.6,1410.1 500.1,1410.2 501.6,1410.2 503.1,1410.2 504.6,1410.2 506.1,1410.3 507.6,1410.3 509.1,1410.3 510.6,1410.3 512.1,1410.4 513.6,1410.4 515.1,1410.4 516.6,1410.4 518.1,1410.4 519.6,1410.5 521.1,1410.5 522.6,1410.5 524.1,1410.5 525.6,1410.6 527.1,1410.6 528.6,1410.6 530.1,1410.6 531.6,1410.6 533.1,1410.7 534.6,1410.7 536.1,1410.7 537.6,1410.7 539.1,1410.7 540.6,1410.8 542.1,1410.8 543.6,1410.8 545.1,1410.8 546.6,1410.8 548.1,1410.9 549.6,1410.9 551.1,1410.9 552.6,1410.9 554.1,1410.9 555.6,1411.0 557.1,1411.0 558.6,1411.0 560.1,1411.0 561.6,1411.0 563.1,1411.0 564.6,1411.1 566.1,1411.1 567.6,1411.1 569.1,1411.1 570.6,1411.1 572.1,1411.1 573.6,1411.2 575.1,1411.2 576.6,1411.2 578.1,1411.2 579.6,1411.2 581.1,1411.2 582.6,1411.3 584.1,1411.3 585.6,1411.3 587.1,1411.3 588.6,1411.3 590.1,1411.3 591.6,1411.3 593.1,1411.4 594.6,1411.4 596.1,1411.4 597.6,1411.4 599.1,1411.4 600.6,1411.4 602.1,1411.4 603.6,1411.5 605.1,1411.5 606.6,1411.5 608.1,1411.5 609.6,1411.5 611.1,1411.5 612.6,1411.5 614.1,1411.6 615.6,1411.6 617.1,1411.6 618.6,1411.6 620.1,1411.6 621.6,1411.6 623.1,1411.6 624.6,1411.6 626.1,1411.7 627.4,1411.7" fill="none" stroke="#1010e0" stroke-width="3.4" stroke-linejoin="round" clip-path="url(#clipC)"/>
<text transform="translate(132.0,1205.0) rotate(81.6) scale(1.0,1)" x="0" y="9.18" text-anchor="middle" font-size="25.5" font-weight="bold" fill="#1010e0">95%</text>
<text transform="translate(211.4,1381.2) rotate(27.9) scale(1.0,1)" x="0" y="9.18" text-anchor="middle" font-size="25.5" font-weight="bold" fill="#1010e0">95%</text>
<text transform="translate(406.0,1410.4) rotate(2.0) scale(1.0,1)" x="0" y="9.18" text-anchor="middle" font-size="25.5" font-weight="bold" fill="#1010e0">95%</text>
<polyline points="110.8,954.6 111.1,956.3 111.4,957.7 111.7,959.3 112.0,960.9 112.3,962.6 112.6,964.3 112.9,965.8 113.1,967.3 113.4,968.9 113.6,970.5 113.9,972.1 114.1,973.8 114.4,975.5 114.6,977.3 114.9,979.1 115.1,980.9 115.4,982.7 115.6,984.2 115.8,985.7 116.0,987.3 116.2,988.8 116.4,990.4 116.6,992.0 116.8,993.6 117.0,995.2 117.2,996.8 117.4,998.5 117.6,1000.1 117.8,1001.8 118.0,1003.5 118.2,1005.2 118.4,1006.9 118.6,1008.6 118.8,1010.3 119.0,1012.1 119.2,1013.8 119.4,1015.6 119.6,1017.4 119.8,1019.2 120.0,1021.0 120.2,1022.8 120.4,1024.6 120.6,1026.4 120.8,1028.2 121.0,1030.0 121.2,1031.8 121.4,1033.7 121.6,1035.5 121.8,1037.4 122.0,1039.2 122.2,1041.1 122.4,1042.9 122.6,1044.8 122.8,1046.7 123.0,1048.5 123.2,1050.4 123.4,1052.3 123.6,1054.1 123.8,1056.0 124.0,1057.9 124.2,1059.8 124.4,1061.6 124.6,1063.5 124.8,1065.4 125.0,1067.3 125.2,1069.1 125.4,1071.0 125.6,1072.9 125.8,1074.7 126.0,1076.6 126.2,1078.4 126.4,1080.3 126.6,1082.1 126.7,1083.5" fill="none" stroke="#86ef3a" stroke-width="3.4" stroke-linejoin="round" clip-path="url(#clipC)"/>
<polyline points="134.5,1151.2 134.7,1152.8 134.9,1154.4 135.1,1156.0 135.3,1157.5 135.5,1159.1 135.7,1160.6 135.9,1162.2 136.1,1163.7 136.3,1165.2 136.5,1166.7 136.7,1168.2 136.9,1169.7 137.2,1171.6 137.4,1173.4 137.7,1175.2 137.9,1177.1 138.2,1178.9 138.4,1180.6 138.7,1182.4 138.9,1184.2 139.2,1185.9 139.4,1187.6 139.7,1189.4 139.9,1191.1 140.2,1192.7 140.4,1194.4 140.7,1196.1 140.9,1197.7 141.2,1199.4 141.4,1201.0 141.7,1202.6 141.9,1204.2 142.2,1205.8 142.4,1207.3 142.7,1208.9 142.9,1210.4 143.2,1212.0 143.4,1213.5 143.7,1215.0 143.9,1216.5 144.2,1218.3 144.5,1220.0 144.8,1221.7 145.1,1223.5 145.4,1225.2 145.7,1226.8 146.0,1228.5 146.3,1230.2 146.6,1231.8 146.9,1233.4 147.2,1235.0 147.5,1236.6 147.8,1238.1 148.1,1239.7 148.4,1241.2 148.7,1242.7 149.0,1244.2 149.3,1245.7 149.7,1247.4 150.0,1249.1 150.4,1250.8 150.7,1252.4 151.1,1254.0 151.4,1255.6 151.8,1257.2 152.1,1258.8 152.5,1260.3 152.8,1261.8 153.2,1263.4 153.5,1264.8 153.9,1266.3 154.3,1268.0 154.7,1269.6 155.1,1271.2 155.5,1272.8 155.9,1274.4 156.3,1275.9 156.7,1277.4 156.9,1278.2" fill="none" stroke="#86ef3a" stroke-width="3.4" stroke-linejoin="round" clip-path="url(#clipC)"/>
<polyline points="182.1,1341.2 183.0,1342.6 183.8,1343.9 184.7,1345.1 185.5,1346.4 186.4,1347.7 187.3,1348.9 188.2,1350.1 189.2,1351.4 190.1,1352.6 191.1,1353.8 192.1,1355.0 193.1,1356.2 194.1,1357.3 195.1,1358.5 196.2,1359.6 197.2,1360.7 198.3,1361.8 199.4,1362.9 200.5,1363.9 201.7,1365.0 202.8,1366.0 204.0,1367.0 205.1,1368.0 206.3,1369.0 207.5,1369.9 208.7,1370.9 210.0,1371.8 211.2,1372.7 212.5,1373.6 213.7,1374.4 215.0,1375.3 216.3,1376.1 217.6,1376.9 218.9,1377.7 220.2,1378.5 221.6,1379.2 222.9,1380.0 224.3,1380.7 225.6,1381.4 227.0,1382.0 228.4,1382.7 229.8,1383.4 231.2,1384.0 232.6,1384.6 234.0,1385.2 235.4,1385.8 236.8,1386.4 238.2,1386.9 239.6,1387.5 241.1,1388.0 242.5,1388.5 244.0,1389.0 245.4,1389.5 246.9,1390.0 248.3,1390.5 249.8,1390.9 251.2,1391.3 252.7,1391.8 254.1,1392.2 255.6,1392.6 257.0,1393.0 258.5,1393.4 260.0,1393.7 261.5,1394.1 263.0,1394.5 264.5,1394.8 266.0,1395.2 267.5,1395.5 269.0,1395.8 270.5,1396.2 272.0,1396.5 273.5,1396.8 275.0,1397.1 276.5,1397.4 278.0,1397.6 279.5,1397.9 281.0,1398.2 282.5,1398.4 284.0,1398.7 285.5,1398.9 287.0,1399.2 288.5,1399.4 290.0,1399.6 291.5,1399.9 292.2,1400.0" fill="none" stroke="#86ef3a" stroke-width="3.4" stroke-linejoin="round" clip-path="url(#clipC)"/>
<polyline points="359.9,1406.4 361.4,1406.5 362.9,1406.6 364.4,1406.7 365.9,1406.8 367.4,1406.8 368.9,1406.9 370.4,1407.0 371.9,1407.1 373.4,1407.2 374.9,1407.2 376.4,1407.3 377.9,1407.4 379.4,1407.5 380.9,1407.5 382.4,1407.6 383.9,1407.7 385.4,1407.7 386.9,1407.8 388.4,1407.9 389.9,1407.9 391.4,1408.0 392.9,1408.1 394.4,1408.1 395.9,1408.2 397.4,1408.3 398.9,1408.3 400.4,1408.4 401.9,1408.4 403.4,1408.5 404.9,1408.5 406.4,1408.6 407.9,1408.7 409.4,1408.7 410.9,1408.8 412.4,1408.8 413.9,1408.9 415.4,1408.9 416.9,1409.0 418.4,1409.0 419.9,1409.1 421.4,1409.1 422.9,1409.2 424.4,1409.2 425.9,1409.3 427.4,1409.3 428.9,1409.3 430.4,1409.4 431.9,1409.4 433.4,1409.5 434.9,1409.5 436.4,1409.6 437.9,1409.6 439.4,1409.6 440.9,1409.7 442.4,1409.7 443.9,1409.8 445.4,1409.8 446.9,1409.8 448.4,1409.9 449.9,1409.9 451.4,1409.9 452.9,1410.0 454.4,1410.0 455.9,1410.1 457.4,1410.1 458.9,1410.1 460.4,1410.2 461.9,1410.2 463.4,1410.2 464.9,1410.3 466.4,1410.3 467.9,1410.3 469.4,1410.4 470.9,1410.4 472.4,1410.4 473.9,1410.4 475.4,1410.5 476.9,1410.5 478.4,1410.5 479.9,1410.6 481.4,1410.6 482.9,1410.6 484.4,1410.6 485.9,1410.7 487.4,1410.7 488.9,1410.7 489.5,1410.7" fill="none" stroke="#86ef3a" stroke-width="3.4" stroke-linejoin="round" clip-path="url(#clipC)"/>
<polyline points="557.5,1411.7 559.0,1411.7 560.5,1411.7 562.0,1411.7 563.5,1411.8 565.0,1411.8 566.5,1411.8 568.0,1411.8 569.5,1411.8 571.0,1411.8 572.5,1411.9 574.0,1411.9 575.5,1411.9 577.0,1411.9 578.5,1411.9 580.0,1411.9 581.5,1411.9 583.0,1412.0 584.5,1412.0 586.0,1412.0 587.5,1412.0 589.0,1412.0 590.5,1412.0 592.0,1412.0 593.5,1412.0 595.0,1412.1 596.5,1412.1 598.0,1412.1 599.5,1412.1 601.0,1412.1 602.5,1412.1 604.0,1412.1 605.5,1412.1 607.0,1412.2 608.5,1412.2 610.0,1412.2 611.5,1412.2 613.0,1412.2 614.5,1412.2 616.0,1412.2 617.5,1412.2 619.0,1412.3 620.5,1412.3 622.0,1412.3 623.5,1412.3 625.0,1412.3 626.5,1412.3 627.4,1412.3" fill="none" stroke="#86ef3a" stroke-width="3.4" stroke-linejoin="round" clip-path="url(#clipC)"/>
<text transform="translate(129.0,1117.6) rotate(83.5) scale(1.0,1)" x="0" y="9.18" text-anchor="middle" font-size="25.5" font-weight="bold" fill="#86ef3a">99%</text>
<text transform="translate(168.2,1310.3) rotate(68.9) scale(1.0,1)" x="0" y="9.18" text-anchor="middle" font-size="25.5" font-weight="bold" fill="#86ef3a">99%</text>
<text transform="translate(326.1,1402.8) rotate(5.2) scale(1.0,1)" x="0" y="9.18" text-anchor="middle" font-size="25.5" font-weight="bold" fill="#86ef3a">99%</text>
<text transform="translate(523.5,1412.7) rotate(0.8) scale(1.0,1)" x="0" y="9.18" text-anchor="middle" font-size="25.5" font-weight="bold" fill="#86ef3a">99%</text>
<rect x="105.4" y="892.4" width="522.00" height="521.80" fill="none" stroke="#000" stroke-width="5"/>
<line x1="105.4" y1="1414.20" x2="92.20" y2="1414.20" stroke="#000" stroke-width="5" stroke-linecap="round"/>
<text transform="translate(77.20,1423.00) scale(0.9550,1)" text-anchor="end" font-size="23.0" font-weight="bold" fill="#000">0</text>
<line x1="105.4" y1="1379.41" x2="97.80" y2="1379.41" stroke="#000" stroke-width="3"/>
<line x1="105.4" y1="1344.63" x2="97.80" y2="1344.63" stroke="#000" stroke-width="3"/>
<line x1="105.4" y1="1309.84" x2="97.80" y2="1309.84" stroke="#000" stroke-width="3"/>
<line x1="105.4" y1="1275.05" x2="97.80" y2="1275.05" stroke="#000" stroke-width="3"/>
<line x1="105.4" y1="1240.27" x2="92.20" y2="1240.27" stroke="#000" stroke-width="5" stroke-linecap="round"/>
<text transform="translate(77.20,1249.07) scale(0.9550,1)" text-anchor="end" font-size="23.0" font-weight="bold" fill="#000">25</text>
<line x1="105.4" y1="1205.48" x2="97.80" y2="1205.48" stroke="#000" stroke-width="3"/>
<line x1="105.4" y1="1170.69" x2="97.80" y2="1170.69" stroke="#000" stroke-width="3"/>
<line x1="105.4" y1="1135.91" x2="97.80" y2="1135.91" stroke="#000" stroke-width="3"/>
<line x1="105.4" y1="1101.12" x2="97.80" y2="1101.12" stroke="#000" stroke-width="3"/>
<line x1="105.4" y1="1066.33" x2="92.20" y2="1066.33" stroke="#000" stroke-width="5" stroke-linecap="round"/>
<text transform="translate(77.20,1075.13) scale(0.9550,1)" text-anchor="end" font-size="23.0" font-weight="bold" fill="#000">50</text>
<line x1="105.4" y1="1031.55" x2="97.80" y2="1031.55" stroke="#000" stroke-width="3"/>
<line x1="105.4" y1="996.76" x2="97.80" y2="996.76" stroke="#000" stroke-width="3"/>
<line x1="105.4" y1="961.97" x2="97.80" y2="961.97" stroke="#000" stroke-width="3"/>
<line x1="105.4" y1="927.19" x2="97.80" y2="927.19" stroke="#000" stroke-width="3"/>
<line x1="105.4" y1="892.40" x2="92.20" y2="892.40" stroke="#000" stroke-width="5" stroke-linecap="round"/>
<text transform="translate(77.20,901.20) scale(0.9550,1)" text-anchor="end" font-size="23.0" font-weight="bold" fill="#000">75</text>
<line x1="105.40" y1="1414.2" x2="105.40" y2="1426.20" stroke="#000" stroke-width="4.8" stroke-linecap="round"/>
<text transform="translate(105.40,1446.70) scale(0.9550,1)" text-anchor="middle" font-size="23.0" font-weight="bold" fill="#000">.0</text>
<line x1="168.04" y1="1414.2" x2="168.04" y2="1426.20" stroke="#000" stroke-width="4.8" stroke-linecap="round"/>
<text transform="translate(168.04,1446.70) scale(0.9550,1)" text-anchor="middle" font-size="23.0" font-weight="bold" fill="#000">.01</text>
<line x1="230.68" y1="1414.2" x2="230.68" y2="1426.20" stroke="#000" stroke-width="4.8" stroke-linecap="round"/>
<text transform="translate(230.68,1446.70) scale(0.9550,1)" text-anchor="middle" font-size="23.0" font-weight="bold" fill="#000">.02</text>
<line x1="293.32" y1="1414.2" x2="293.32" y2="1426.20" stroke="#000" stroke-width="4.8" stroke-linecap="round"/>
<text transform="translate(293.32,1446.70) scale(0.9550,1)" text-anchor="middle" font-size="23.0" font-weight="bold" fill="#000">.03</text>
<line x1="368.49" y1="1414.2" x2="368.49" y2="1426.20" stroke="#000" stroke-width="4.8" stroke-linecap="round"/>
<text transform="translate(368.49,1446.70) scale(0.9550,1)" text-anchor="middle" font-size="23.0" font-weight="bold" fill="#000">.042</text>
<line x1="456.18" y1="1414.2" x2="456.18" y2="1426.20" stroke="#000" stroke-width="4.8" stroke-linecap="round"/>
<text transform="translate(456.18,1446.70) scale(0.9550,1)" text-anchor="middle" font-size="23.0" font-weight="bold" fill="#000">.056</text>
<line x1="627.40" y1="1414.2" x2="627.40" y2="1426.20" stroke="#000" stroke-width="4.8" stroke-linecap="round"/>
<text transform="translate(627.40,1446.70) scale(0.9550,1)" text-anchor="middle" font-size="23.0" font-weight="bold" fill="#000">.083</text>
<line x1="115.84" y1="892.4" x2="115.84" y2="879.40" stroke="#000" stroke-width="4.8" stroke-linecap="round"/>
<text transform="translate(115.84,876.70) scale(0.9550,1)" text-anchor="middle" font-size="23.0" font-weight="bold" fill="#000">50</text>
<line x1="157.60" y1="892.4" x2="157.60" y2="879.40" stroke="#000" stroke-width="4.8" stroke-linecap="round"/>
<text transform="translate(157.60,876.70) scale(0.9550,1)" text-anchor="middle" font-size="23.0" font-weight="bold" fill="#000">10</text>
<line x1="209.80" y1="892.4" x2="209.80" y2="879.40" stroke="#000" stroke-width="4.8" stroke-linecap="round"/>
<text transform="translate(209.80,876.70) scale(0.9550,1)" text-anchor="middle" font-size="23.0" font-weight="bold" fill="#000">5</text>
<line x1="279.40" y1="892.4" x2="279.40" y2="879.40" stroke="#000" stroke-width="4.8" stroke-linecap="round"/>
<text transform="translate(279.40,876.70) scale(0.9550,1)" text-anchor="middle" font-size="23.0" font-weight="bold" fill="#000">3</text>
<line x1="366.40" y1="892.4" x2="366.40" y2="879.40" stroke="#000" stroke-width="4.8" stroke-linecap="round"/>
<text transform="translate(366.40,876.70) scale(0.9550,1)" text-anchor="middle" font-size="23.0" font-weight="bold" fill="#000">2</text>
<line x1="453.40" y1="892.4" x2="453.40" y2="879.40" stroke="#000" stroke-width="4.8" stroke-linecap="round"/>
<text transform="translate(453.40,876.70) scale(0.9550,1)" text-anchor="middle" font-size="23.0" font-weight="bold" fill="#000">1.5</text>
<line x1="627.40" y1="892.4" x2="627.40" y2="879.40" stroke="#000" stroke-width="4.8" stroke-linecap="round"/>
<text transform="translate(627.40,876.70) scale(0.9550,1)" text-anchor="middle" font-size="23.0" font-weight="bold" fill="#000">1</text>
<text transform="translate(366.40,1490.40) scale(0.9300,1)" text-anchor="middle" font-size="32.0" fill="#000" stroke="#000" stroke-width="0.9" stroke-linejoin="round">Frequency (cycles mo<tspan dy="-14.5" font-size="17.5">-1</tspan><tspan dy="14.5">)</tspan></text>
<text transform="translate(32.90,1154.30) rotate(-90) scale(0.9370,1)" text-anchor="middle" font-size="32.0" fill="#000" stroke="#000" stroke-width="0.9" stroke-linejoin="round">Power (<tspan dy="-14.5" font-size="17.5">o</tspan><tspan dy="14.5">C</tspan><tspan dy="-14.5" font-size="17.5">2</tspan><tspan dy="14.5"> / cycles mo</tspan><tspan dy="-14.5" font-size="17.5">-1</tspan><tspan dy="14.5">)</tspan></text>
<text transform="translate(16.00,847.40) scale(0.9100,1)" text-anchor="start" font-size="43.5" font-weight="bold" fill="#000">C</text>
<text transform="translate(139.50,843.30) scale(0.9650,1)" text-anchor="start" font-size="39.5" font-weight="normal" fill="#000">SPPT</text>
<clipPath id="clipD"><rect x="801.0" y="892.4" width="522.40" height="522.10"/></clipPath>
<polyline points="801.2,1385.1 804.1,1384.6 807.1,1382.6 811.3,1375.1 818.0,1368.8 823.1,1366.1 825.2,1362.6 827.9,1348.6 830.6,1338.1 835.6,1341.1 841.6,1349.6 846.3,1348.1 848.9,1343.1 853.4,1345.2 857.8,1356.7 860.5,1365.2 864.0,1362.0 868.5,1353.2 871.2,1348.7 873.8,1349.6 876.5,1347.8 878.7,1338.9 882.1,1318.5 886.8,1297.2 891.6,1280.6 895.1,1276.6 903.4,1273.5 907.0,1280.6 910.5,1296.0 915.3,1310.2 920.0,1326.1 924.7,1324.1 930.7,1317.4 933.0,1300.8 936.6,1271.6 939.0,1262.6 946.1,1272.3 950.8,1280.6 955.6,1300.8 961.5,1315.0 963.8,1330.4 966.2,1348.2 968.6,1363.6 971.1,1355.6 975.6,1347.1 980.6,1339.9 986.6,1336.6 993.5,1330.4 997.0,1338.7 1000.6,1345.8 1005.3,1345.8 1007.7,1350.5 1016.0,1343.4 1021.9,1352.9 1027.8,1358.8 1033.8,1365.9 1038.5,1367.1 1045.8,1387.3 1052.9,1386.1 1069.5,1395.0 1081.3,1395.0 1093.2,1389.1 1107.4,1384.9 1119.3,1393.2 1133.5,1392.6 1144.1,1386.1 1156.0,1395.0 1167.8,1399.7 1184.9,1399.3 1220.2,1400.5 1241.6,1404.3 1270.5,1403.1 1291.9,1406.2 1320.5,1407.5" fill="none" stroke="#b1b1b1" stroke-width="5.0" stroke-linejoin="round" clip-path="url(#clipD)"/>
<polyline points="809.3,1401.1 830.9,1377.8 841.6,1390.3 852.4,1406.5 863.2,1392.1 873.9,1376.0 884.7,1370.6 897.2,1363.4 906.2,1361.6 911.6,1352.7 917.0,1340.1 922.3,1318.6 927.7,1315.0 938.5,1327.5 947.4,1333.2 954.9,1300.0 962.3,1273.9 967.9,1259.0 973.5,1288.8 979.1,1322.3 984.6,1353.9 988.4,1370.7 999.5,1380.0 1007.0,1387.4 1014.4,1396.7 1021.8,1400.4 1040.0,1402.0 1060.9,1399.5 1070.2,1393.0 1081.4,1391.1 1092.5,1400.4 1110.0,1404.0 1122.6,1403.0 1135.0,1397.5 1150.0,1396.5 1168.0,1397.0 1178.0,1401.0 1190.0,1406.0 1206.0,1406.7 1224.0,1409.0 1270.0,1409.0 1320.5,1409.5" fill="none" stroke="#000" stroke-width="5.0" stroke-linejoin="round" clip-path="url(#clipD)"/>
<polyline points="810.6,1084.5 810.8,1086.1 811.1,1087.8 811.3,1089.6 811.6,1091.3 811.8,1093.1 812.1,1095.0 812.3,1096.5 812.5,1098.0 812.7,1099.5 812.9,1101.1 813.1,1102.7 813.3,1104.3 813.5,1105.9 813.7,1107.5 813.9,1109.2 814.1,1110.9 814.3,1112.6 814.5,1114.3 814.7,1116.0 814.9,1117.7 815.1,1119.5 815.3,1121.2 815.5,1123.0 815.7,1124.8 815.9,1126.6 816.1,1128.4 816.3,1130.2 816.5,1132.0 816.7,1133.8 816.9,1135.6 817.1,1137.5 817.3,1139.3 817.5,1141.1 817.7,1143.0 817.9,1144.8 818.1,1146.7 818.3,1148.5 818.5,1150.3 818.7,1152.2 818.9,1154.0 819.1,1155.9 819.3,1157.7 819.5,1159.6 819.7,1161.4 819.9,1163.2 820.1,1165.0 820.3,1166.9 820.5,1168.7 820.7,1170.5 820.9,1172.3 821.1,1174.1 821.3,1175.9 821.5,1177.7 821.7,1179.5 821.9,1181.2 822.1,1183.0 822.3,1184.7 822.5,1186.5 822.7,1188.2 822.9,1190.0 823.1,1191.7 823.3,1193.4 823.5,1195.1 823.7,1196.8 823.9,1198.5 824.1,1200.1 824.3,1201.8 824.5,1203.4 824.7,1205.1 824.9,1206.7 825.1,1208.3 825.3,1209.9 825.5,1211.5 825.7,1213.1 825.9,1214.7 826.1,1216.2 826.3,1217.8 826.5,1219.3 826.7,1220.8 826.9,1222.3 827.1,1223.8 827.3,1225.7 827.6,1227.5 827.8,1229.3 828.1,1231.1 828.3,1232.9 828.6,1234.7 828.8,1236.4 829.1,1238.1 829.3,1239.8 829.6,1241.5 829.8,1243.2 830.1,1244.8 830.3,1246.5 830.6,1248.1 830.8,1249.7 831.1,1251.3 831.3,1252.8 831.6,1254.4 831.8,1255.9 832.1,1257.4 832.3,1258.9 832.6,1260.6 832.9,1262.4 833.2,1264.1 833.5,1265.8 833.8,1267.4 834.1,1269.1 834.4,1270.7 834.7,1272.3 835.0,1273.8 835.3,1275.4 835.6,1276.9 835.9,1278.4 836.2,1279.9 836.6,1281.6 836.9,1283.3 837.3,1284.9 837.6,1286.5 838.0,1288.1 838.3,1289.7 838.7,1291.2 839.0,1292.7 839.4,1294.2 839.7,1295.7 840.1,1297.3 840.5,1298.9 840.9,1300.5 841.3,1302.0 841.7,1303.5 842.1,1305.0 842.5,1306.5 843.0,1308.1 843.4,1309.7 843.9,1311.2 844.3,1312.7 844.8,1314.2 845.2,1315.6 845.7,1317.2 846.2,1318.8 846.7,1320.3 847.2,1321.7 847.7,1323.2 848.3,1324.7 848.8,1326.2 849.4,1327.7 849.9,1329.1 850.5,1330.6 851.1,1332.1 851.7,1333.5 852.3,1334.9 853.0,1336.4 853.6,1337.8 854.3,1339.2 854.9,1340.6 855.6,1342.0 856.3,1343.4 857.0,1344.8 857.8,1346.2 858.5,1347.5 859.3,1348.8 860.1,1350.2 860.9,1351.5 861.7,1352.8 862.5,1354.1 863.4,1355.4 864.3,1356.7 865.2,1357.9 866.1,1359.1 867.0,1360.4 868.0,1361.6 869.0,1362.8 870.0,1364.0 871.0,1365.1 872.0,1366.2 873.1,1367.3 874.2,1368.5 875.3,1369.5 876.4,1370.6 877.5,1371.6 878.7,1372.6 879.8,1373.6 881.0,1374.6 882.2,1375.5 883.4,1376.4 884.7,1377.3 885.9,1378.2 887.2,1379.0 888.5,1379.9 889.8,1380.7 891.1,1381.5 892.4,1382.2 893.7,1383.0 895.1,1383.7 896.4,1384.4 897.8,1385.1 899.2,1385.8 900.6,1386.4 902.0,1387.0 903.4,1387.7 904.8,1388.2 906.2,1388.8 907.6,1389.4 909.0,1389.9 910.5,1390.4 911.9,1390.9 913.4,1391.4 914.8,1391.9 916.3,1392.4 917.7,1392.8 919.2,1393.3 920.6,1393.7 922.1,1394.1 923.5,1394.5 925.0,1394.9 926.5,1395.3 928.0,1395.6 929.5,1396.0 931.0,1396.3 932.5,1396.7 934.0,1397.0 935.5,1397.3 937.0,1397.6 938.5,1397.9 940.0,1398.2 941.5,1398.5 943.0,1398.8 944.5,1399.0 946.0,1399.3 947.5,1399.6 949.0,1399.8 950.5,1400.1 952.0,1400.3 953.5,1400.5 955.0,1400.7 956.5,1401.0 958.0,1401.2 959.5,1401.4 961.0,1401.6 962.5,1401.8 964.0,1402.0 965.5,1402.2 967.0,1402.3 968.5,1402.5 970.0,1402.7 971.5,1402.9 973.0,1403.0 974.5,1403.2 976.0,1403.4 977.5,1403.5 979.0,1403.7 980.5,1403.8 982.0,1404.0 983.5,1404.1 985.0,1404.2 986.5,1404.4 988.0,1404.5 989.5,1404.6 991.0,1404.8 992.5,1404.9 994.0,1405.0 995.5,1405.1 997.0,1405.3 998.5,1405.4 1000.0,1405.5 1001.5,1405.6 1003.0,1405.7 1004.5,1405.8 1006.0,1405.9 1007.5,1406.0 1009.0,1406.1 1010.5,1406.2 1012.0,1406.3 1013.5,1406.4 1015.0,1406.5 1016.5,1406.6 1018.0,1406.7 1019.5,1406.8 1021.0,1406.9 1022.5,1406.9 1024.0,1407.0 1025.5,1407.1 1027.0,1407.2 1028.5,1407.3 1030.0,1407.3 1031.5,1407.4 1033.0,1407.5 1034.5,1407.6 1036.0,1407.6 1037.5,1407.7 1039.0,1407.8 1040.5,1407.9 1042.0,1407.9 1043.5,1408.0 1045.0,1408.1 1046.5,1408.1 1048.0,1408.2 1049.5,1408.3 1051.0,1408.3 1052.5,1408.4 1054.0,1408.4 1055.5,1408.5 1057.0,1408.6 1058.5,1408.6 1060.0,1408.7 1061.5,1408.7 1063.0,1408.8 1064.5,1408.8 1066.0,1408.9 1067.5,1408.9 1069.0,1409.0 1070.5,1409.0 1072.0,1409.1 1073.5,1409.1 1075.0,1409.2 1076.5,1409.2 1078.0,1409.3 1079.5,1409.3 1081.0,1409.4 1082.5,1409.4 1084.0,1409.5 1085.5,1409.5 1087.0,1409.5 1088.5,1409.6 1090.0,1409.6 1091.5,1409.7 1093.0,1409.7 1094.5,1409.8 1096.0,1409.8 1097.5,1409.8 1099.0,1409.9 1100.5,1409.9 1102.0,1410.0 1103.5,1410.0 1105.0,1410.0 1106.5,1410.1 1108.0,1410.1 1109.5,1410.1 1111.0,1410.2 1112.5,1410.2 1114.0,1410.2 1115.5,1410.3 1117.0,1410.3 1118.5,1410.3 1120.0,1410.4 1121.5,1410.4 1123.0,1410.4 1124.5,1410.5 1126.0,1410.5 1127.5,1410.5 1129.0,1410.6 1130.5,1410.6 1132.0,1410.6 1133.5,1410.6 1135.0,1410.7 1136.5,1410.7 1138.0,1410.7 1139.5,1410.8 1141.0,1410.8 1142.5,1410.8 1144.0,1410.8 1145.5,1410.9 1147.0,1410.9 1148.5,1410.9 1150.0,1410.9 1151.5,1411.0 1153.0,1411.0 1154.5,1411.0 1156.0,1411.0 1157.5,1411.1 1159.0,1411.1 1160.5,1411.1 1162.0,1411.1 1163.5,1411.2 1165.0,1411.2 1166.5,1411.2 1168.0,1411.2 1169.5,1411.2 1171.0,1411.3 1172.5,1411.3 1174.0,1411.3 1175.5,1411.3 1177.0,1411.4 1178.5,1411.4 1180.0,1411.4 1181.5,1411.4 1183.0,1411.4 1184.5,1411.5 1186.0,1411.5 1187.5,1411.5 1189.0,1411.5 1190.5,1411.5 1192.0,1411.5 1193.5,1411.6 1195.0,1411.6 1196.5,1411.6 1198.0,1411.6 1199.5,1411.6 1201.0,1411.7 1202.5,1411.7 1204.0,1411.7 1205.5,1411.7 1207.0,1411.7 1208.5,1411.7 1210.0,1411.8 1211.5,1411.8 1213.0,1411.8 1214.5,1411.8 1216.0,1411.8 1217.5,1411.8 1219.0,1411.9 1220.5,1411.9 1222.0,1411.9 1223.5,1411.9 1225.0,1411.9 1226.5,1411.9 1228.0,1411.9 1229.5,1412.0 1231.0,1412.0 1232.5,1412.0 1234.0,1412.0 1235.5,1412.0 1237.0,1412.0 1238.5,1412.1 1240.0,1412.1 1241.5,1412.1 1243.0,1412.1 1244.5,1412.1 1246.0,1412.1 1247.5,1412.1 1249.0,1412.1 1250.5,1412.2 1252.0,1412.2 1253.5,1412.2 1255.0,1412.2 1256.5,1412.2 1258.0,1412.2 1259.5,1412.2 1261.0,1412.2 1262.5,1412.3 1264.0,1412.3 1265.5,1412.3 1267.0,1412.3 1268.5,1412.3 1270.0,1412.3 1271.5,1412.3 1273.0,1412.3 1274.5,1412.4 1276.0,1412.4 1277.5,1412.4 1279.0,1412.4 1280.5,1412.4 1282.0,1412.4 1283.5,1412.4 1285.0,1412.4 1286.5,1412.4 1288.0,1412.4 1289.5,1412.5 1291.0,1412.5 1292.5,1412.5 1294.0,1412.5 1295.5,1412.5 1297.0,1412.5 1298.5,1412.5 1300.0,1412.5 1301.5,1412.5 1303.0,1412.5 1304.5,1412.6 1306.0,1412.6 1307.5,1412.6 1309.0,1412.6 1310.5,1412.6 1312.0,1412.6 1313.5,1412.6 1315.0,1412.6 1316.5,1412.6 1318.0,1412.6 1319.5,1412.7 1321.0,1412.7 1322.5,1412.7 1323.4,1412.7" fill="none" stroke="#d40d12" stroke-width="3.6" stroke-linejoin="round" clip-path="url(#clipD)"/>
<polyline points="810.6,827.3 811.2,828.7 811.7,830.3 812.2,831.7 812.6,833.3 813.0,834.9 813.4,836.3 813.7,837.9 814.1,839.6 814.4,841.1 814.7,842.7 815.0,844.3 815.3,846.1 815.5,847.6 815.8,849.2 816.0,850.9 816.3,852.6 816.5,854.4 816.8,856.2 817.0,857.7 817.2,859.2 817.4,860.8 817.6,862.4 817.8,864.1 818.0,865.8 818.2,867.5 818.4,869.3 818.6,871.1 818.8,873.0 819.0,874.9 819.2,876.8 819.4,878.7 819.6,880.7 819.7,882.3 819.9,883.8 820.0,885.4 820.2,886.9 820.3,888.5 820.5,890.1 820.6,891.8 820.8,893.4 820.9,895.1 821.1,896.8 821.2,898.5 821.4,900.2 821.5,901.9 821.7,903.7 821.8,905.5 822.0,907.2 822.1,909.0 822.3,910.8 822.4,912.7 822.6,914.5 822.7,916.4 822.9,918.2 823.0,920.1 823.2,922.0 823.3,923.9 823.5,925.8 823.6,927.8 823.8,929.7 823.9,931.7 824.1,933.6 824.2,935.6 824.4,937.6 824.5,939.6 824.7,941.6 824.8,943.6 825.0,945.6 825.1,947.6 825.3,949.6 825.4,951.7 825.6,953.7 825.7,955.8 825.9,957.8 826.0,959.9 826.2,961.9 826.3,964.0 826.5,966.1 826.6,968.1 826.8,970.2 826.9,972.3 827.1,974.4 827.2,976.5 827.4,978.6 827.5,980.7 827.7,982.7 827.8,984.8 828.0,986.9 828.1,989.0 828.3,991.1 828.4,993.2 828.6,995.3 828.7,997.4 828.9,999.5 829.0,1001.6 829.2,1003.6 829.3,1005.7 829.5,1007.8 829.6,1009.9 829.8,1011.9 829.9,1014.0 830.1,1016.1 830.2,1018.1 830.4,1020.2 830.4,1020.9" fill="none" stroke="#1010e0" stroke-width="3.4" stroke-linejoin="round" clip-path="url(#clipD)"/>
<polyline points="835.7,1089.3 835.9,1091.1 836.0,1092.9 836.2,1094.6 836.3,1096.4 836.5,1098.1 836.6,1099.9 836.8,1101.6 836.9,1103.3 837.1,1105.0 837.2,1106.7 837.4,1108.4 837.5,1110.1 837.7,1111.8 837.8,1113.4 838.0,1115.1 838.1,1116.7 838.3,1118.4 838.4,1120.0 838.6,1121.6 838.7,1123.2 838.9,1124.8 839.0,1126.4 839.2,1128.0 839.3,1129.5 839.5,1131.1 839.6,1132.6 839.8,1134.2 839.9,1135.7 840.1,1137.2 840.2,1138.7 840.4,1140.2 840.6,1142.2 840.8,1144.2 841.0,1146.1 841.2,1148.1 841.4,1150.0 841.6,1151.9 841.8,1153.8 842.0,1155.6 842.2,1157.5 842.4,1159.3 842.6,1161.1 842.8,1162.9 843.0,1164.7 843.2,1166.5 843.4,1168.3 843.6,1170.0 843.8,1171.7 844.0,1173.4 844.2,1175.1 844.4,1176.8 844.6,1178.5 844.8,1180.1 845.0,1181.8 845.2,1183.4 845.4,1185.0 845.6,1186.6 845.8,1188.1 846.0,1189.7 846.2,1191.2 846.4,1192.8 846.6,1194.3 846.8,1195.8 847.0,1197.3 847.2,1199.1 847.5,1201.0 847.7,1202.8 848.0,1204.6 848.2,1206.3 848.5,1208.1 848.7,1209.8 849.0,1211.5 849.2,1213.2 849.5,1214.8 849.7,1216.5 849.9,1217.5" fill="none" stroke="#1010e0" stroke-width="3.4" stroke-linejoin="round" clip-path="url(#clipD)"/>
<polyline points="863.6,1284.4 864.1,1286.0 864.5,1287.6 865.0,1289.1 865.4,1290.6 865.9,1292.1 866.3,1293.5 866.8,1295.0 867.3,1296.5 867.8,1298.1 868.3,1299.6 868.8,1301.0 869.3,1302.5 869.8,1303.9 870.3,1305.4 870.9,1306.9 871.4,1308.4 872.0,1309.8 872.5,1311.2 873.1,1312.7 873.7,1314.2 874.3,1315.6 874.9,1317.0 875.5,1318.4 876.2,1319.9 876.8,1321.3 877.5,1322.7 878.1,1324.0 878.8,1325.5 879.5,1326.9 880.2,1328.2 880.9,1329.6 881.7,1331.0 882.4,1332.3 883.2,1333.6 884.0,1335.0 884.8,1336.4 885.6,1337.7 886.4,1338.9 887.2,1340.3 888.1,1341.5 888.9,1342.8 889.8,1344.1 890.7,1345.3 891.6,1346.5 892.6,1347.8 893.5,1349.0 894.5,1350.2 895.5,1351.4 896.5,1352.6 897.5,1353.7 898.5,1354.9 899.6,1356.0 900.6,1357.1 901.7,1358.2 902.8,1359.3 903.9,1360.4 905.0,1361.4 906.2,1362.4 907.3,1363.4 908.5,1364.4 909.7,1365.4 910.9,1366.3 912.1,1367.3 913.3,1368.2 914.5,1369.1 915.8,1370.0 917.0,1370.8 918.3,1371.7 919.6,1372.5 920.9,1373.3 922.2,1374.1 923.5,1374.9 924.8,1375.6 926.2,1376.4 927.5,1377.1 928.9,1377.8 930.2,1378.5 931.6,1379.2 933.0,1379.8 934.4,1380.5 935.8,1381.1 937.2,1381.7 938.6,1382.3 939.4,1382.7" fill="none" stroke="#1010e0" stroke-width="3.4" stroke-linejoin="round" clip-path="url(#clipD)"/>
<polyline points="1005.4,1398.7 1006.9,1398.9 1008.4,1399.1 1009.9,1399.3 1011.4,1399.5 1012.9,1399.7 1014.4,1399.9 1015.9,1400.1 1017.4,1400.3 1018.9,1400.4 1020.4,1400.6 1021.9,1400.8 1023.4,1401.0 1024.9,1401.1 1026.4,1401.3 1027.9,1401.4 1029.4,1401.6 1030.9,1401.7 1032.4,1401.9 1033.9,1402.0 1035.4,1402.2 1036.9,1402.3 1038.4,1402.5 1039.9,1402.6 1041.4,1402.7 1042.9,1402.9 1044.4,1403.0 1045.9,1403.1 1047.4,1403.2 1048.9,1403.4 1050.4,1403.5 1051.9,1403.6 1053.4,1403.7 1054.9,1403.8 1056.4,1403.9 1057.9,1404.1 1059.4,1404.2 1060.9,1404.3 1062.4,1404.4 1063.9,1404.5 1065.4,1404.6 1066.9,1404.7 1068.4,1404.8 1069.9,1404.9 1071.4,1405.0 1072.9,1405.1 1074.4,1405.2 1075.9,1405.3 1077.4,1405.3 1078.9,1405.4 1080.4,1405.5 1081.9,1405.6 1083.4,1405.7 1084.9,1405.8 1086.4,1405.9 1087.9,1405.9 1089.4,1406.0 1090.9,1406.1 1092.4,1406.2 1093.9,1406.3 1095.4,1406.3 1096.9,1406.4 1098.4,1406.5 1099.9,1406.5 1101.4,1406.6 1102.9,1406.7 1104.4,1406.8 1105.9,1406.8 1107.4,1406.9 1108.9,1407.0 1110.4,1407.0 1111.9,1407.1 1113.4,1407.2 1114.9,1407.2 1116.4,1407.3 1117.9,1407.3 1119.4,1407.4 1120.9,1407.5 1122.4,1407.5 1123.9,1407.6 1125.4,1407.6 1126.9,1407.7 1128.4,1407.8 1129.9,1407.8 1131.4,1407.9 1132.9,1407.9 1134.4,1408.0 1135.9,1408.0 1137.4,1408.1 1138.9,1408.1 1140.4,1408.2 1141.9,1408.2 1143.1,1408.3" fill="none" stroke="#1010e0" stroke-width="3.4" stroke-linejoin="round" clip-path="url(#clipD)"/>
<polyline points="1211.1,1410.0 1212.6,1410.0 1214.1,1410.1 1215.6,1410.1 1217.1,1410.1 1218.6,1410.1 1220.1,1410.2 1221.6,1410.2 1223.1,1410.2 1224.6,1410.3 1226.1,1410.3 1227.6,1410.3 1229.1,1410.3 1230.6,1410.4 1232.1,1410.4 1233.6,1410.4 1235.1,1410.4 1236.6,1410.5 1238.1,1410.5 1239.6,1410.5 1241.1,1410.5 1242.6,1410.6 1244.1,1410.6 1245.6,1410.6 1247.1,1410.6 1248.6,1410.7 1250.1,1410.7 1251.6,1410.7 1253.1,1410.7 1254.6,1410.8 1256.1,1410.8 1257.6,1410.8 1259.1,1410.8 1260.6,1410.8 1262.1,1410.9 1263.6,1410.9 1265.1,1410.9 1266.6,1410.9 1268.1,1410.9 1269.6,1411.0 1271.1,1411.0 1272.6,1411.0 1274.1,1411.0 1275.6,1411.0 1277.1,1411.1 1278.6,1411.1 1280.1,1411.1 1281.6,1411.1 1283.1,1411.1 1284.6,1411.2 1286.1,1411.2 1287.6,1411.2 1289.1,1411.2 1290.6,1411.2 1292.1,1411.3 1293.6,1411.3 1295.1,1411.3 1296.6,1411.3 1298.1,1411.3 1299.6,1411.3 1301.1,1411.4 1302.6,1411.4 1304.1,1411.4 1305.6,1411.4 1307.1,1411.4 1308.6,1411.4 1310.1,1411.5 1311.6,1411.5 1313.1,1411.5 1314.6,1411.5 1316.1,1411.5 1317.6,1411.5 1319.1,1411.6 1320.6,1411.6 1322.1,1411.6 1323.4,1411.6" fill="none" stroke="#1010e0" stroke-width="3.4" stroke-linejoin="round" clip-path="url(#clipD)"/>
<text transform="translate(827.4,1055.5) rotate(85.6) scale(1.0,1)" x="0" y="9.18" text-anchor="middle" font-size="25.5" font-weight="bold" fill="#1010e0">95%</text>
<text transform="translate(850.6,1252.2) rotate(78.6) scale(1.0,1)" x="0" y="9.18" text-anchor="middle" font-size="25.5" font-weight="bold" fill="#1010e0">95%</text>
<text transform="translate(971.6,1394.0) rotate(13.0) scale(1.0,1)" x="0" y="9.18" text-anchor="middle" font-size="25.5" font-weight="bold" fill="#1010e0">95%</text>
<text transform="translate(1177.0,1414.0) rotate(1.4) scale(1.0,1)" x="0" y="9.18" text-anchor="middle" font-size="25.5" font-weight="bold" fill="#1010e0">95%</text>
<polyline points="810.6,803.1 812.1,803.5 813.5,804.1 814.7,804.9 815.8,806.0 816.8,807.2 817.6,808.5 818.3,809.9 818.9,811.3 819.4,812.8 819.9,814.3 820.4,815.8 820.8,817.4 821.2,819.0 821.6,820.4 821.9,822.0 822.3,823.7 822.6,825.2 822.9,826.8 823.2,828.5 823.5,830.2 823.7,831.7 824.0,833.3 824.2,835.0 824.5,836.7 824.7,838.4 825.0,840.3 825.2,841.8 825.4,843.3 825.6,844.9 825.8,846.5 826.0,848.2 826.2,849.9 826.4,851.6 826.6,853.4 826.8,855.2 827.0,857.0 827.2,858.9 827.4,860.8 827.6,862.8 827.7,864.3 827.9,865.8 828.0,867.4 828.2,868.9 828.3,870.5 828.5,872.1 828.6,873.7 828.8,875.4 828.9,877.0 829.1,878.7 829.2,880.4 829.4,882.1 829.5,883.8 829.7,885.6 829.8,887.3 830.0,889.1 830.1,890.9 830.3,892.7 830.4,894.5 830.6,896.4 830.7,898.2 830.9,900.1 831.0,902.0 831.2,903.9 831.3,905.8 831.5,907.7 831.6,909.7 831.8,911.6 831.9,913.6 832.1,915.5 832.2,917.5 832.4,919.5 832.5,921.5 832.7,923.5 832.8,925.5 833.0,927.6 833.1,929.6 833.3,931.6 833.4,933.7 833.6,935.7 833.7,937.8 833.9,939.9 834.0,941.9 834.2,944.0 834.3,946.1 834.5,948.2 834.6,950.3 834.8,952.4 834.9,954.5 835.1,956.6 835.2,958.7 835.4,960.8 835.5,962.9 835.7,965.0 835.8,967.1 836.0,969.2 836.1,971.3 836.3,973.4 836.4,975.5 836.6,977.6 836.7,979.7 836.9,981.8 837.0,983.9 837.2,986.0 837.3,988.1 837.5,990.1 837.6,992.2 837.8,994.3 837.9,996.4 838.1,998.5 838.2,1000.5 838.4,1002.6 838.5,1004.6 838.7,1006.7 838.8,1008.7 839.0,1010.8 839.1,1012.8 839.3,1014.8 839.4,1016.9 839.6,1018.9 839.7,1020.9" fill="none" stroke="#86ef3a" stroke-width="3.4" stroke-linejoin="round" clip-path="url(#clipD)"/>
<polyline points="845.3,1089.4 845.4,1091.1 845.6,1092.7 845.7,1094.4 845.9,1096.0 846.0,1097.7 846.2,1099.3 846.3,1100.9 846.5,1102.5 846.6,1104.1 846.8,1105.7 846.9,1107.3 847.1,1108.9 847.2,1110.4 847.4,1112.0 847.5,1113.5 847.7,1115.0 847.8,1116.5 848.0,1118.1 848.1,1119.6 848.3,1121.5 848.5,1123.5 848.7,1125.5 848.9,1127.4 849.1,1129.3 849.3,1131.2 849.5,1133.1 849.7,1135.0 849.9,1136.8 850.1,1138.7 850.3,1140.5 850.5,1142.3 850.7,1144.1 850.9,1145.9 851.1,1147.6 851.3,1149.4 851.5,1151.1 851.7,1152.8 851.9,1154.5 852.1,1156.2 852.3,1157.9 852.5,1159.5 852.7,1161.2 852.9,1162.8 853.1,1164.4 853.3,1166.0 853.5,1167.6 853.7,1169.1 853.9,1170.7 854.1,1172.2 854.3,1173.8 854.5,1175.3 854.7,1176.8 854.9,1178.3 855.2,1180.1 855.4,1181.9 855.7,1183.7 855.9,1185.5 856.2,1187.3 856.4,1189.0 856.7,1190.8 856.9,1192.5 857.2,1194.1 857.4,1195.8 857.7,1197.5 857.9,1199.1 858.2,1200.7 858.4,1202.3 858.7,1203.9 858.9,1205.4 859.2,1207.0 859.4,1208.5 859.7,1210.0 859.9,1211.5 860.2,1213.0 860.5,1214.8 860.8,1216.5 861.1,1218.2 861.2,1218.8" fill="none" stroke="#86ef3a" stroke-width="3.4" stroke-linejoin="round" clip-path="url(#clipD)"/>
<polyline points="877.1,1285.0 877.6,1286.5 878.1,1288.0 878.6,1289.4 879.1,1290.8 879.6,1292.4 880.2,1293.9 880.7,1295.3 881.3,1296.8 881.8,1298.2 882.4,1299.6 883.0,1301.1 883.6,1302.6 884.2,1304.0 884.8,1305.4 885.4,1306.8 886.0,1308.3 886.7,1309.7 887.3,1311.1 888.0,1312.5 888.7,1313.9 889.4,1315.4 890.1,1316.7 890.8,1318.1 891.5,1319.4 892.2,1320.8 893.0,1322.2 893.7,1323.5 894.5,1324.8 895.3,1326.2 896.1,1327.5 896.9,1328.8 897.7,1330.1 898.6,1331.5 899.4,1332.7 900.3,1334.0 901.2,1335.3 902.1,1336.5 903.0,1337.8 903.9,1339.0 904.9,1340.3 905.8,1341.5 906.8,1342.6 907.8,1343.8 908.8,1345.0 909.8,1346.1 910.8,1347.3 911.9,1348.4 912.9,1349.6 914.0,1350.6 915.1,1351.7 916.2,1352.8 917.3,1353.8 918.4,1354.9 919.6,1355.9 920.7,1356.9 921.9,1357.9 923.1,1358.9 924.3,1359.9 925.5,1360.8 926.7,1361.7 927.9,1362.7 929.2,1363.6 930.4,1364.4 931.7,1365.3 932.9,1366.1 934.2,1367.0 935.5,1367.8 936.8,1368.6 938.1,1369.4 939.4,1370.1 940.8,1370.9 942.1,1371.6 943.5,1372.4 944.8,1373.1 946.2,1373.8 947.5,1374.4 948.9,1375.1 950.3,1375.8 951.7,1376.4 953.1,1377.0 954.5,1377.6 955.9,1378.2 956.7,1378.6" fill="none" stroke="#86ef3a" stroke-width="3.4" stroke-linejoin="round" clip-path="url(#clipD)"/>
<polyline points="1022.5,1395.4 1024.0,1395.7 1025.5,1395.9 1027.0,1396.1 1028.5,1396.3 1030.0,1396.5 1031.5,1396.7 1033.0,1396.9 1034.5,1397.1 1036.0,1397.3 1037.5,1397.5 1039.0,1397.7 1040.5,1397.9 1042.0,1398.1 1043.5,1398.3 1045.0,1398.5 1046.5,1398.6 1048.0,1398.8 1049.5,1399.0 1051.0,1399.1 1052.5,1399.3 1054.0,1399.5 1055.5,1399.6 1057.0,1399.8 1058.5,1399.9 1060.0,1400.1 1061.5,1400.2 1063.0,1400.4 1064.5,1400.5 1066.0,1400.7 1067.5,1400.8 1069.0,1400.9 1070.5,1401.1 1072.0,1401.2 1073.5,1401.3 1075.0,1401.5 1076.5,1401.6 1078.0,1401.7 1079.5,1401.9 1081.0,1402.0 1082.5,1402.1 1084.0,1402.2 1085.5,1402.3 1087.0,1402.4 1088.5,1402.6 1090.0,1402.7 1091.5,1402.8 1093.0,1402.9 1094.5,1403.0 1096.0,1403.1 1097.5,1403.2 1099.0,1403.3 1100.5,1403.4 1102.0,1403.5 1103.5,1403.6 1105.0,1403.7 1106.5,1403.8 1108.0,1403.9 1109.5,1404.0 1111.0,1404.1 1112.5,1404.2 1114.0,1404.2 1115.5,1404.3 1117.0,1404.4 1118.5,1404.5 1120.0,1404.6 1121.5,1404.7 1123.0,1404.8 1124.5,1404.8 1126.0,1404.9 1127.5,1405.0 1129.0,1405.1 1130.5,1405.1 1132.0,1405.2 1133.5,1405.3 1135.0,1405.4 1136.5,1405.4 1138.0,1405.5 1139.5,1405.6 1141.0,1405.7 1142.5,1405.7 1142.6,1405.7" fill="none" stroke="#86ef3a" stroke-width="3.4" stroke-linejoin="round" clip-path="url(#clipD)"/>
<polyline points="1210.6,1408.2 1212.1,1408.2 1213.6,1408.3 1215.1,1408.3 1216.6,1408.3 1218.1,1408.4 1219.6,1408.4 1221.1,1408.5 1222.6,1408.5 1224.1,1408.5 1225.6,1408.6 1227.1,1408.6 1228.6,1408.6 1230.1,1408.7 1231.6,1408.7 1233.1,1408.8 1234.6,1408.8 1236.1,1408.8 1237.6,1408.9 1239.1,1408.9 1240.6,1408.9 1242.1,1409.0 1243.6,1409.0 1245.1,1409.0 1246.6,1409.1 1248.1,1409.1 1249.6,1409.1 1251.1,1409.2 1252.6,1409.2 1254.1,1409.2 1255.6,1409.3 1257.1,1409.3 1258.6,1409.3 1260.1,1409.3 1261.6,1409.4 1263.1,1409.4 1264.6,1409.4 1266.1,1409.5 1267.6,1409.5 1269.1,1409.5 1270.6,1409.5 1272.1,1409.6 1273.6,1409.6 1275.1,1409.6 1276.6,1409.7 1278.1,1409.7 1279.6,1409.7 1281.1,1409.7 1282.6,1409.8 1284.1,1409.8 1285.6,1409.8 1287.1,1409.8 1288.6,1409.9 1290.1,1409.9 1291.6,1409.9 1293.1,1409.9 1294.6,1410.0 1296.1,1410.0 1297.6,1410.0 1299.1,1410.0 1300.6,1410.1 1302.1,1410.1 1303.6,1410.1 1305.1,1410.1 1306.6,1410.2 1308.1,1410.2 1309.6,1410.2 1311.1,1410.2 1312.6,1410.3 1314.1,1410.3 1315.6,1410.3 1317.1,1410.3 1318.6,1410.3 1320.1,1410.4 1321.6,1410.4 1323.1,1410.4 1323.4,1410.4" fill="none" stroke="#86ef3a" stroke-width="3.4" stroke-linejoin="round" clip-path="url(#clipD)"/>
<text transform="translate(840.4,1055.5) rotate(85.4) scale(1.0,1)" x="0" y="9.18" text-anchor="middle" font-size="25.5" font-weight="bold" fill="#86ef3a">99%</text>
<text transform="translate(867.7,1252.2) rotate(76.8) scale(1.0,1)" x="0" y="9.18" text-anchor="middle" font-size="25.5" font-weight="bold" fill="#86ef3a">99%</text>
<text transform="translate(988.9,1390.0) rotate(13.8) scale(1.0,1)" x="0" y="9.18" text-anchor="middle" font-size="25.5" font-weight="bold" fill="#86ef3a">99%</text>
<text transform="translate(1176.7,1405.5) rotate(2.0) scale(1.0,1)" x="0" y="9.18" text-anchor="middle" font-size="25.5" font-weight="bold" fill="#86ef3a">99%</text>
<rect x="801.0" y="892.4" width="522.40" height="522.10" fill="none" stroke="#000" stroke-width="5"/>
<line x1="801.0" y1="1414.50" x2="787.80" y2="1414.50" stroke="#000" stroke-width="5" stroke-linecap="round"/>
<text transform="translate(772.80,1423.30) scale(0.9550,1)" text-anchor="end" font-size="23.0" font-weight="bold" fill="#000">0</text>
<line x1="801.0" y1="1379.69" x2="793.40" y2="1379.69" stroke="#000" stroke-width="3"/>
<line x1="801.0" y1="1344.89" x2="793.40" y2="1344.89" stroke="#000" stroke-width="3"/>
<line x1="801.0" y1="1310.08" x2="793.40" y2="1310.08" stroke="#000" stroke-width="3"/>
<line x1="801.0" y1="1275.27" x2="793.40" y2="1275.27" stroke="#000" stroke-width="3"/>
<line x1="801.0" y1="1240.47" x2="787.80" y2="1240.47" stroke="#000" stroke-width="5" stroke-linecap="round"/>
<text transform="translate(772.80,1249.27) scale(0.9550,1)" text-anchor="end" font-size="23.0" font-weight="bold" fill="#000">25</text>
<line x1="801.0" y1="1205.66" x2="793.40" y2="1205.66" stroke="#000" stroke-width="3"/>
<line x1="801.0" y1="1170.85" x2="793.40" y2="1170.85" stroke="#000" stroke-width="3"/>
<line x1="801.0" y1="1136.05" x2="793.40" y2="1136.05" stroke="#000" stroke-width="3"/>
<line x1="801.0" y1="1101.24" x2="793.40" y2="1101.24" stroke="#000" stroke-width="3"/>
<line x1="801.0" y1="1066.43" x2="787.80" y2="1066.43" stroke="#000" stroke-width="5" stroke-linecap="round"/>
<text transform="translate(772.80,1075.23) scale(0.9550,1)" text-anchor="end" font-size="23.0" font-weight="bold" fill="#000">50</text>
<line x1="801.0" y1="1031.63" x2="793.40" y2="1031.63" stroke="#000" stroke-width="3"/>
<line x1="801.0" y1="996.82" x2="793.40" y2="996.82" stroke="#000" stroke-width="3"/>
<line x1="801.0" y1="962.01" x2="793.40" y2="962.01" stroke="#000" stroke-width="3"/>
<line x1="801.0" y1="927.21" x2="793.40" y2="927.21" stroke="#000" stroke-width="3"/>
<line x1="801.0" y1="892.40" x2="787.80" y2="892.40" stroke="#000" stroke-width="5" stroke-linecap="round"/>
<text transform="translate(772.80,901.20) scale(0.9550,1)" text-anchor="end" font-size="23.0" font-weight="bold" fill="#000">75</text>
<line x1="801.00" y1="1414.5" x2="801.00" y2="1426.50" stroke="#000" stroke-width="4.8" stroke-linecap="round"/>
<text transform="translate(801.00,1447.00) scale(0.9550,1)" text-anchor="middle" font-size="23.0" font-weight="bold" fill="#000">.0</text>
<line x1="863.69" y1="1414.5" x2="863.69" y2="1426.50" stroke="#000" stroke-width="4.8" stroke-linecap="round"/>
<text transform="translate(863.69,1447.00) scale(0.9550,1)" text-anchor="middle" font-size="23.0" font-weight="bold" fill="#000">.01</text>
<line x1="926.38" y1="1414.5" x2="926.38" y2="1426.50" stroke="#000" stroke-width="4.8" stroke-linecap="round"/>
<text transform="translate(926.38,1447.00) scale(0.9550,1)" text-anchor="middle" font-size="23.0" font-weight="bold" fill="#000">.02</text>
<line x1="989.06" y1="1414.5" x2="989.06" y2="1426.50" stroke="#000" stroke-width="4.8" stroke-linecap="round"/>
<text transform="translate(989.06,1447.00) scale(0.9550,1)" text-anchor="middle" font-size="23.0" font-weight="bold" fill="#000">.03</text>
<line x1="1064.29" y1="1414.5" x2="1064.29" y2="1426.50" stroke="#000" stroke-width="4.8" stroke-linecap="round"/>
<text transform="translate(1064.29,1447.00) scale(0.9550,1)" text-anchor="middle" font-size="23.0" font-weight="bold" fill="#000">.042</text>
<line x1="1152.05" y1="1414.5" x2="1152.05" y2="1426.50" stroke="#000" stroke-width="4.8" stroke-linecap="round"/>
<text transform="translate(1152.05,1447.00) scale(0.9550,1)" text-anchor="middle" font-size="23.0" font-weight="bold" fill="#000">.056</text>
<line x1="1323.40" y1="1414.5" x2="1323.40" y2="1426.50" stroke="#000" stroke-width="4.8" stroke-linecap="round"/>
<text transform="translate(1323.40,1447.00) scale(0.9550,1)" text-anchor="middle" font-size="23.0" font-weight="bold" fill="#000">.083</text>
<line x1="811.45" y1="892.4" x2="811.45" y2="879.40" stroke="#000" stroke-width="4.8" stroke-linecap="round"/>
<text transform="translate(811.45,876.70) scale(0.9550,1)" text-anchor="middle" font-size="23.0" font-weight="bold" fill="#000">50</text>
<line x1="853.24" y1="892.4" x2="853.24" y2="879.40" stroke="#000" stroke-width="4.8" stroke-linecap="round"/>
<text transform="translate(853.24,876.70) scale(0.9550,1)" text-anchor="middle" font-size="23.0" font-weight="bold" fill="#000">10</text>
<line x1="905.48" y1="892.4" x2="905.48" y2="879.40" stroke="#000" stroke-width="4.8" stroke-linecap="round"/>
<text transform="translate(905.48,876.70) scale(0.9550,1)" text-anchor="middle" font-size="23.0" font-weight="bold" fill="#000">5</text>
<line x1="975.13" y1="892.4" x2="975.13" y2="879.40" stroke="#000" stroke-width="4.8" stroke-linecap="round"/>
<text transform="translate(975.13,876.70) scale(0.9550,1)" text-anchor="middle" font-size="23.0" font-weight="bold" fill="#000">3</text>
<line x1="1062.20" y1="892.4" x2="1062.20" y2="879.40" stroke="#000" stroke-width="4.8" stroke-linecap="round"/>
<text transform="translate(1062.20,876.70) scale(0.9550,1)" text-anchor="middle" font-size="23.0" font-weight="bold" fill="#000">2</text>
<line x1="1149.27" y1="892.4" x2="1149.27" y2="879.40" stroke="#000" stroke-width="4.8" stroke-linecap="round"/>
<text transform="translate(1149.27,876.70) scale(0.9550,1)" text-anchor="middle" font-size="23.0" font-weight="bold" fill="#000">1.5</text>
<line x1="1323.40" y1="892.4" x2="1323.40" y2="879.40" stroke="#000" stroke-width="4.8" stroke-linecap="round"/>
<text transform="translate(1323.40,876.70) scale(0.9550,1)" text-anchor="middle" font-size="23.0" font-weight="bold" fill="#000">1</text>
<text transform="translate(1062.20,1490.70) scale(0.9300,1)" text-anchor="middle" font-size="32.0" fill="#000" stroke="#000" stroke-width="0.9" stroke-linejoin="round">Frequency (cycles mo<tspan dy="-14.5" font-size="17.5">-1</tspan><tspan dy="14.5">)</tspan></text>
<text transform="translate(728.50,1154.45) rotate(-90) scale(0.9370,1)" text-anchor="middle" font-size="32.0" fill="#000" stroke="#000" stroke-width="0.9" stroke-linejoin="round">Power (<tspan dy="-14.5" font-size="17.5">o</tspan><tspan dy="14.5">C</tspan><tspan dy="-14.5" font-size="17.5">2</tspan><tspan dy="14.5"> / cycles mo</tspan><tspan dy="-14.5" font-size="17.5">-1</tspan><tspan dy="14.5">)</tspan></text>
<text transform="translate(695.60,847.70) scale(0.8900,1)" text-anchor="start" font-size="43.5" font-weight="bold" fill="#000">D</text>
<text transform="translate(840.00,844.00) scale(0.9850,1)" text-anchor="start" font-size="39.5" font-weight="normal" fill="#000">ModSPPT</text>
</svg></body></html>
